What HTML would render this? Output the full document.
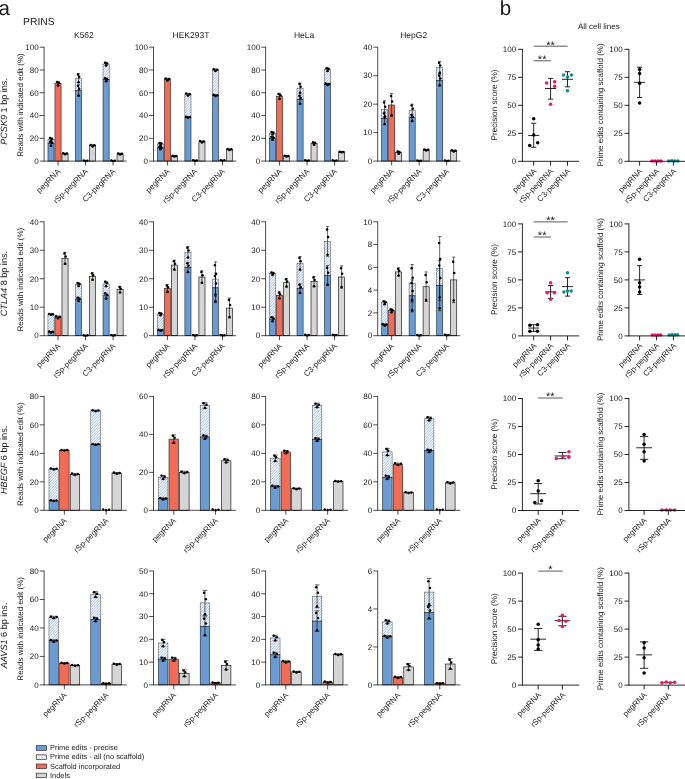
<!DOCTYPE html>
<html><head><meta charset="utf-8"><title>Figure</title>
<style>html,body{margin:0;padding:0;background:#fff}svg{display:block;will-change:transform}</style></head>
<body>
<svg width="685" height="779" viewBox="0 0 685 779" font-family="Liberation Sans, Arial, sans-serif" text-rendering="geometricPrecision">
<defs><pattern id="hatch" width="2.1" height="2.1" patternUnits="userSpaceOnUse"><rect width="2.1" height="2.1" fill="#fff"/><path d="M-0.5,0.5L0.5,-0.5M-0.2,2.3L2.3,-0.2M1.6,2.6L2.6,1.6" stroke="#9bbce6" stroke-width="0.65" fill="none"/></pattern></defs>
<rect width="685" height="779" fill="#fff"/>
<text x="-1.5" y="14.5" font-size="20.5" text-anchor="start" fill="#1a1a1a" >a</text>
<text x="23.1" y="24.9" font-size="10.3" text-anchor="start" fill="#1a1a1a" >PRINS</text>
<text x="499.7" y="14.5" font-size="20.5" text-anchor="start" fill="#1a1a1a" >b</text>
<text x="598.8" y="28.7" font-size="8.0" text-anchor="middle" fill="#1a1a1a" >All cell lines</text>
<text x="83.9" y="37.6" font-size="8.5" text-anchor="middle" fill="#1a1a1a" >K562</text>
<text x="191" y="37.6" font-size="8.5" text-anchor="middle" fill="#1a1a1a" >HEK293T</text>
<text x="304.1" y="37.6" font-size="8.5" text-anchor="middle" fill="#1a1a1a" >HeLa</text>
<text x="413.7" y="37.6" font-size="8.5" text-anchor="middle" fill="#1a1a1a" >HepG2</text>
<rect x="47.97" y="139.46" width="6.1" height="4.21" fill="#fff"/>
<path d="M47.97,140.4L48.82,139.46M47.97,143.1L51.28,139.46M49.9,143.67L53.73,139.46M52.35,143.67L54.07,141.79" stroke="#9abbe7" stroke-width="0.95" fill="none"/>
<rect x="47.97" y="139.46" width="6.1" height="4.21" fill="none" stroke="#444" stroke-width="0.5"/>
<rect x="47.97" y="143.67" width="6.1" height="17.43" fill="#6a9bd2" stroke="#111" stroke-width="0.55"/>
<rect x="54.97" y="83.53" width="6.1" height="77.57" fill="#f26b55" stroke="#111" stroke-width="0.55"/>
<rect x="61.97" y="153.7" width="6.1" height="7.4" fill="#d5d5d5" stroke="#111" stroke-width="0.65"/>
<line x1="51.02" y1="141.17" x2="51.02" y2="137.75" stroke="#000" stroke-width="0.6" />
<line x1="49.49" y1="141.17" x2="52.54" y2="141.17" stroke="#000" stroke-width="0.6" />
<line x1="49.49" y1="137.75" x2="52.54" y2="137.75" stroke="#000" stroke-width="0.6" />
<circle cx="49.99" cy="138.09" r="1.25" fill="#000"/>
<circle cx="51.02" cy="141" r="1.25" fill="#000"/>
<circle cx="52.04" cy="138.95" r="1.25" fill="#000"/>
<line x1="51.02" y1="145.95" x2="51.02" y2="141.4" stroke="#000" stroke-width="0.6" />
<line x1="49.49" y1="145.95" x2="52.54" y2="145.95" stroke="#000" stroke-width="0.6" />
<line x1="49.49" y1="141.4" x2="52.54" y2="141.4" stroke="#000" stroke-width="0.6" />
<circle cx="49.99" cy="141.85" r="1.25" fill="#000"/>
<circle cx="51.02" cy="145.72" r="1.25" fill="#000"/>
<circle cx="52.04" cy="142.99" r="1.25" fill="#000"/>
<line x1="58.02" y1="85.58" x2="58.02" y2="81.48" stroke="#000" stroke-width="0.6" />
<line x1="56.49" y1="85.58" x2="59.54" y2="85.58" stroke="#000" stroke-width="0.6" />
<line x1="56.49" y1="81.48" x2="59.54" y2="81.48" stroke="#000" stroke-width="0.6" />
<circle cx="56.99" cy="81.89" r="1.25" fill="#000"/>
<circle cx="58.02" cy="85.38" r="1.25" fill="#000"/>
<circle cx="59.04" cy="82.92" r="1.25" fill="#000"/>
<line x1="65.02" y1="154.27" x2="65.02" y2="153.13" stroke="#000" stroke-width="0.6" />
<line x1="63.49" y1="154.27" x2="66.54" y2="154.27" stroke="#000" stroke-width="0.6" />
<line x1="63.49" y1="153.13" x2="66.54" y2="153.13" stroke="#000" stroke-width="0.6" />
<circle cx="63.15" cy="153.24" r="1.25" fill="#000"/>
<circle cx="65.02" cy="154.21" r="1.25" fill="#000"/>
<circle cx="66.88" cy="153.53" r="1.25" fill="#000"/>
<rect x="75.5" y="78.18" width="6.1" height="12.3" fill="#fff"/>
<path d="M75.5,78.3L75.61,78.18M75.5,81L78.06,78.18M75.5,83.7L80.52,78.18M75.5,86.4L81.6,79.69M75.5,89.1L81.6,82.39M76.7,90.48L81.6,85.09M79.15,90.48L81.6,87.79" stroke="#9abbe7" stroke-width="0.95" fill="none"/>
<rect x="75.5" y="78.18" width="6.1" height="12.3" fill="none" stroke="#444" stroke-width="0.5"/>
<rect x="75.5" y="90.48" width="6.1" height="70.62" fill="#6a9bd2" stroke="#111" stroke-width="0.55"/>
<rect x="89.5" y="145.61" width="6.1" height="15.49" fill="#d5d5d5" stroke="#111" stroke-width="0.65"/>
<line x1="78.55" y1="82.74" x2="78.55" y2="73.62" stroke="#000" stroke-width="0.6" />
<line x1="77.03" y1="82.74" x2="80.08" y2="82.74" stroke="#000" stroke-width="0.6" />
<line x1="77.03" y1="73.62" x2="80.08" y2="73.62" stroke="#000" stroke-width="0.6" />
<circle cx="77.99" cy="74.54" r="1.25" fill="#000"/>
<circle cx="78.55" cy="82.28" r="1.25" fill="#000"/>
<circle cx="79.11" cy="76.81" r="1.25" fill="#000"/>
<line x1="78.55" y1="96.18" x2="78.55" y2="84.79" stroke="#000" stroke-width="0.6" />
<line x1="77.03" y1="96.18" x2="80.08" y2="96.18" stroke="#000" stroke-width="0.6" />
<line x1="77.03" y1="84.79" x2="80.08" y2="84.79" stroke="#000" stroke-width="0.6" />
<circle cx="77.99" cy="85.93" r="1.25" fill="#000"/>
<circle cx="78.55" cy="95.61" r="1.25" fill="#000"/>
<circle cx="79.11" cy="88.77" r="1.25" fill="#000"/>
<circle cx="83.68" cy="160.48" r="1.25" fill="#000"/>
<circle cx="85.55" cy="161.07" r="1.25" fill="#000"/>
<circle cx="87.42" cy="160.66" r="1.25" fill="#000"/>
<line x1="92.55" y1="146.52" x2="92.55" y2="144.7" stroke="#000" stroke-width="0.6" />
<line x1="91.03" y1="146.52" x2="94.08" y2="146.52" stroke="#000" stroke-width="0.6" />
<line x1="91.03" y1="144.7" x2="94.08" y2="144.7" stroke="#000" stroke-width="0.6" />
<circle cx="90.68" cy="144.88" r="1.25" fill="#000"/>
<circle cx="92.55" cy="146.43" r="1.25" fill="#000"/>
<circle cx="94.42" cy="145.34" r="1.25" fill="#000"/>
<rect x="103.03" y="64.06" width="6.1" height="15.6" fill="#fff"/>
<path d="M103.03,64.8L103.71,64.06M103.03,67.5L106.16,64.06M103.03,70.2L108.62,64.06M103.03,72.9L109.13,66.19M103.03,75.6L109.13,68.89M103.03,78.3L109.13,71.59M104.25,79.66L109.13,74.29M106.7,79.66L109.13,76.99" stroke="#9abbe7" stroke-width="0.95" fill="none"/>
<rect x="103.03" y="64.06" width="6.1" height="15.6" fill="none" stroke="#444" stroke-width="0.5"/>
<rect x="103.03" y="79.66" width="6.1" height="81.44" fill="#6a9bd2" stroke="#111" stroke-width="0.55"/>
<rect x="117.03" y="153.92" width="6.1" height="7.18" fill="#d5d5d5" stroke="#111" stroke-width="0.65"/>
<line x1="106.08" y1="65.77" x2="106.08" y2="62.35" stroke="#000" stroke-width="0.6" />
<line x1="104.56" y1="65.77" x2="107.61" y2="65.77" stroke="#000" stroke-width="0.6" />
<line x1="104.56" y1="62.35" x2="107.61" y2="62.35" stroke="#000" stroke-width="0.6" />
<circle cx="105.06" cy="62.69" r="1.25" fill="#000"/>
<circle cx="106.08" cy="65.59" r="1.25" fill="#000"/>
<circle cx="107.11" cy="63.54" r="1.25" fill="#000"/>
<line x1="106.08" y1="81.37" x2="106.08" y2="77.95" stroke="#000" stroke-width="0.6" />
<line x1="104.56" y1="81.37" x2="107.61" y2="81.37" stroke="#000" stroke-width="0.6" />
<line x1="104.56" y1="77.95" x2="107.61" y2="77.95" stroke="#000" stroke-width="0.6" />
<circle cx="105.06" cy="78.29" r="1.25" fill="#000"/>
<circle cx="106.08" cy="81.2" r="1.25" fill="#000"/>
<circle cx="107.11" cy="79.15" r="1.25" fill="#000"/>
<circle cx="111.22" cy="160.48" r="1.25" fill="#000"/>
<circle cx="113.08" cy="161.07" r="1.25" fill="#000"/>
<circle cx="114.95" cy="160.66" r="1.25" fill="#000"/>
<line x1="120.08" y1="154.61" x2="120.08" y2="153.24" stroke="#000" stroke-width="0.6" />
<line x1="118.56" y1="154.61" x2="121.61" y2="154.61" stroke="#000" stroke-width="0.6" />
<line x1="118.56" y1="153.24" x2="121.61" y2="153.24" stroke="#000" stroke-width="0.6" />
<circle cx="118.22" cy="153.38" r="1.25" fill="#000"/>
<circle cx="120.08" cy="154.54" r="1.25" fill="#000"/>
<circle cx="121.95" cy="153.72" r="1.25" fill="#000"/>
<line x1="44.1" y1="46.85" x2="44.1" y2="161.45" stroke="#000" stroke-width="0.7" />
<line x1="44.1" y1="161.1" x2="126.7" y2="161.1" stroke="#000" stroke-width="0.7" />
<line x1="39.7" y1="161.1" x2="44.1" y2="161.1" stroke="#000" stroke-width="0.7" />
<text x="38.6" y="163.85" font-size="8.0" text-anchor="end" fill="#1a1a1a" >0</text>
<line x1="39.7" y1="138.32" x2="44.1" y2="138.32" stroke="#000" stroke-width="0.7" />
<text x="38.6" y="141.07" font-size="8.0" text-anchor="end" fill="#1a1a1a" >20</text>
<line x1="39.7" y1="115.54" x2="44.1" y2="115.54" stroke="#000" stroke-width="0.7" />
<text x="38.6" y="118.29" font-size="8.0" text-anchor="end" fill="#1a1a1a" >40</text>
<line x1="39.7" y1="92.76" x2="44.1" y2="92.76" stroke="#000" stroke-width="0.7" />
<text x="38.6" y="95.51" font-size="8.0" text-anchor="end" fill="#1a1a1a" >60</text>
<line x1="39.7" y1="69.98" x2="44.1" y2="69.98" stroke="#000" stroke-width="0.7" />
<text x="38.6" y="72.73" font-size="8.0" text-anchor="end" fill="#1a1a1a" >80</text>
<line x1="39.7" y1="47.2" x2="44.1" y2="47.2" stroke="#000" stroke-width="0.7" />
<text x="38.6" y="49.95" font-size="8.0" text-anchor="end" fill="#1a1a1a" >100</text>
<line x1="58.02" y1="161.1" x2="58.02" y2="165.5" stroke="#000" stroke-width="0.7" />
<text transform="translate(60.92,172) rotate(-45)" font-size="8.0" text-anchor="end" fill="#1a1a1a">pegRNA</text>
<line x1="85.55" y1="161.1" x2="85.55" y2="165.5" stroke="#000" stroke-width="0.7" />
<text transform="translate(88.45,172) rotate(-45)" font-size="8.0" text-anchor="end" fill="#1a1a1a">rSp-pegRNA</text>
<line x1="113.08" y1="161.1" x2="113.08" y2="165.5" stroke="#000" stroke-width="0.7" />
<text transform="translate(115.98,172) rotate(-45)" font-size="8.0" text-anchor="end" fill="#1a1a1a">C3-pegRNA</text>
<rect x="157.37" y="144.01" width="6.1" height="3.99" fill="#fff"/>
<path d="M157.37,145.8L158.99,144.01M157.82,148L161.44,144.01M160.27,148L163.47,144.49M162.73,148L163.47,147.19" stroke="#9abbe7" stroke-width="0.95" fill="none"/>
<rect x="157.37" y="144.01" width="6.1" height="3.99" fill="none" stroke="#444" stroke-width="0.5"/>
<rect x="157.37" y="148" width="6.1" height="13.1" fill="#6a9bd2" stroke="#111" stroke-width="0.55"/>
<rect x="164.37" y="79.43" width="6.1" height="81.67" fill="#f26b55" stroke="#111" stroke-width="0.55"/>
<rect x="171.37" y="156.2" width="6.1" height="4.9" fill="#d5d5d5" stroke="#111" stroke-width="0.65"/>
<line x1="160.42" y1="145.38" x2="160.42" y2="142.65" stroke="#000" stroke-width="0.6" />
<line x1="158.89" y1="145.38" x2="161.94" y2="145.38" stroke="#000" stroke-width="0.6" />
<line x1="158.89" y1="142.65" x2="161.94" y2="142.65" stroke="#000" stroke-width="0.6" />
<circle cx="159.39" cy="142.92" r="1.25" fill="#000"/>
<circle cx="160.42" cy="145.25" r="1.25" fill="#000"/>
<circle cx="161.44" cy="143.6" r="1.25" fill="#000"/>
<line x1="160.42" y1="149.37" x2="160.42" y2="146.63" stroke="#000" stroke-width="0.6" />
<line x1="158.89" y1="149.37" x2="161.94" y2="149.37" stroke="#000" stroke-width="0.6" />
<line x1="158.89" y1="146.63" x2="161.94" y2="146.63" stroke="#000" stroke-width="0.6" />
<circle cx="159.39" cy="146.91" r="1.25" fill="#000"/>
<circle cx="160.42" cy="149.23" r="1.25" fill="#000"/>
<circle cx="161.44" cy="147.59" r="1.25" fill="#000"/>
<line x1="167.42" y1="80.57" x2="167.42" y2="78.29" stroke="#000" stroke-width="0.6" />
<line x1="165.89" y1="80.57" x2="168.94" y2="80.57" stroke="#000" stroke-width="0.6" />
<line x1="165.89" y1="78.29" x2="168.94" y2="78.29" stroke="#000" stroke-width="0.6" />
<circle cx="165.55" cy="78.52" r="1.25" fill="#000"/>
<circle cx="167.42" cy="80.46" r="1.25" fill="#000"/>
<circle cx="169.28" cy="79.09" r="1.25" fill="#000"/>
<line x1="174.42" y1="156.66" x2="174.42" y2="155.75" stroke="#000" stroke-width="0.6" />
<line x1="172.89" y1="156.66" x2="175.94" y2="156.66" stroke="#000" stroke-width="0.6" />
<line x1="172.89" y1="155.75" x2="175.94" y2="155.75" stroke="#000" stroke-width="0.6" />
<circle cx="172.55" cy="155.84" r="1.25" fill="#000"/>
<circle cx="174.42" cy="156.61" r="1.25" fill="#000"/>
<circle cx="176.28" cy="156.07" r="1.25" fill="#000"/>
<rect x="184.9" y="94.47" width="6.1" height="22.78" fill="#fff"/>
<path d="M184.9,97.2L187.38,94.47M184.9,99.9L189.84,94.47M184.9,102.6L191,95.89M184.9,105.3L191,98.59M184.9,108L191,101.29M184.9,110.7L191,103.99M184.9,113.4L191,106.69M184.9,116.1L191,109.39M186.31,117.25L191,112.09M188.77,117.25L191,114.79" stroke="#9abbe7" stroke-width="0.95" fill="none"/>
<rect x="184.9" y="94.47" width="6.1" height="22.78" fill="none" stroke="#444" stroke-width="0.5"/>
<rect x="184.9" y="117.25" width="6.1" height="43.85" fill="#6a9bd2" stroke="#111" stroke-width="0.55"/>
<rect x="198.9" y="141.74" width="6.1" height="19.36" fill="#d5d5d5" stroke="#111" stroke-width="0.65"/>
<line x1="187.95" y1="95.61" x2="187.95" y2="93.33" stroke="#000" stroke-width="0.6" />
<line x1="186.43" y1="95.61" x2="189.48" y2="95.61" stroke="#000" stroke-width="0.6" />
<line x1="186.43" y1="93.33" x2="189.48" y2="93.33" stroke="#000" stroke-width="0.6" />
<circle cx="186.08" cy="93.56" r="1.25" fill="#000"/>
<circle cx="187.95" cy="95.49" r="1.25" fill="#000"/>
<circle cx="189.82" cy="94.13" r="1.25" fill="#000"/>
<line x1="187.95" y1="117.93" x2="187.95" y2="116.57" stroke="#000" stroke-width="0.6" />
<line x1="186.43" y1="117.93" x2="189.48" y2="117.93" stroke="#000" stroke-width="0.6" />
<line x1="186.43" y1="116.57" x2="189.48" y2="116.57" stroke="#000" stroke-width="0.6" />
<circle cx="186.08" cy="116.7" r="1.25" fill="#000"/>
<circle cx="187.95" cy="117.86" r="1.25" fill="#000"/>
<circle cx="189.82" cy="117.04" r="1.25" fill="#000"/>
<circle cx="193.08" cy="160.26" r="1.25" fill="#000"/>
<circle cx="194.95" cy="160.84" r="1.25" fill="#000"/>
<circle cx="196.82" cy="160.43" r="1.25" fill="#000"/>
<line x1="201.95" y1="142.53" x2="201.95" y2="140.94" stroke="#000" stroke-width="0.6" />
<line x1="200.43" y1="142.53" x2="203.48" y2="142.53" stroke="#000" stroke-width="0.6" />
<line x1="200.43" y1="140.94" x2="203.48" y2="140.94" stroke="#000" stroke-width="0.6" />
<circle cx="200.08" cy="141.1" r="1.25" fill="#000"/>
<circle cx="201.95" cy="142.45" r="1.25" fill="#000"/>
<circle cx="203.82" cy="141.5" r="1.25" fill="#000"/>
<rect x="212.43" y="69.98" width="6.1" height="25.4" fill="#fff"/>
<path d="M212.43,70.2L212.63,69.98M212.43,72.9L215.09,69.98M212.43,75.6L217.54,69.98M212.43,78.3L218.53,71.59M212.43,81L218.53,74.29M212.43,83.7L218.53,76.99M212.43,86.4L218.53,79.69M212.43,89.1L218.53,82.39M212.43,91.8L218.53,85.09M212.43,94.5L218.53,87.79M214.09,95.38L218.53,90.49M216.54,95.38L218.53,93.19" stroke="#9abbe7" stroke-width="0.95" fill="none"/>
<rect x="212.43" y="69.98" width="6.1" height="25.4" fill="none" stroke="#444" stroke-width="0.5"/>
<rect x="212.43" y="95.38" width="6.1" height="65.72" fill="#6a9bd2" stroke="#111" stroke-width="0.55"/>
<rect x="226.43" y="149.48" width="6.1" height="11.62" fill="#d5d5d5" stroke="#111" stroke-width="0.65"/>
<line x1="215.48" y1="71.01" x2="215.48" y2="68.95" stroke="#000" stroke-width="0.6" />
<line x1="213.96" y1="71.01" x2="217.01" y2="71.01" stroke="#000" stroke-width="0.6" />
<line x1="213.96" y1="68.95" x2="217.01" y2="68.95" stroke="#000" stroke-width="0.6" />
<circle cx="213.62" cy="69.16" r="1.25" fill="#000"/>
<circle cx="215.48" cy="70.9" r="1.25" fill="#000"/>
<circle cx="217.35" cy="69.67" r="1.25" fill="#000"/>
<line x1="215.48" y1="96.06" x2="215.48" y2="94.7" stroke="#000" stroke-width="0.6" />
<line x1="213.96" y1="96.06" x2="217.01" y2="96.06" stroke="#000" stroke-width="0.6" />
<line x1="213.96" y1="94.7" x2="217.01" y2="94.7" stroke="#000" stroke-width="0.6" />
<circle cx="213.62" cy="94.83" r="1.25" fill="#000"/>
<circle cx="215.48" cy="95.99" r="1.25" fill="#000"/>
<circle cx="217.35" cy="95.17" r="1.25" fill="#000"/>
<circle cx="220.62" cy="160.14" r="1.25" fill="#000"/>
<circle cx="222.48" cy="160.72" r="1.25" fill="#000"/>
<circle cx="224.35" cy="160.31" r="1.25" fill="#000"/>
<line x1="229.48" y1="150.05" x2="229.48" y2="148.91" stroke="#000" stroke-width="0.6" />
<line x1="227.96" y1="150.05" x2="231.01" y2="150.05" stroke="#000" stroke-width="0.6" />
<line x1="227.96" y1="148.91" x2="231.01" y2="148.91" stroke="#000" stroke-width="0.6" />
<circle cx="227.62" cy="149.03" r="1.25" fill="#000"/>
<circle cx="229.48" cy="149.99" r="1.25" fill="#000"/>
<circle cx="231.35" cy="149.31" r="1.25" fill="#000"/>
<line x1="153.5" y1="46.85" x2="153.5" y2="161.45" stroke="#000" stroke-width="0.7" />
<line x1="153.5" y1="161.1" x2="236.1" y2="161.1" stroke="#000" stroke-width="0.7" />
<line x1="149.1" y1="161.1" x2="153.5" y2="161.1" stroke="#000" stroke-width="0.7" />
<text x="148" y="163.85" font-size="8.0" text-anchor="end" fill="#1a1a1a" >0</text>
<line x1="149.1" y1="138.32" x2="153.5" y2="138.32" stroke="#000" stroke-width="0.7" />
<text x="148" y="141.07" font-size="8.0" text-anchor="end" fill="#1a1a1a" >20</text>
<line x1="149.1" y1="115.54" x2="153.5" y2="115.54" stroke="#000" stroke-width="0.7" />
<text x="148" y="118.29" font-size="8.0" text-anchor="end" fill="#1a1a1a" >40</text>
<line x1="149.1" y1="92.76" x2="153.5" y2="92.76" stroke="#000" stroke-width="0.7" />
<text x="148" y="95.51" font-size="8.0" text-anchor="end" fill="#1a1a1a" >60</text>
<line x1="149.1" y1="69.98" x2="153.5" y2="69.98" stroke="#000" stroke-width="0.7" />
<text x="148" y="72.73" font-size="8.0" text-anchor="end" fill="#1a1a1a" >80</text>
<line x1="149.1" y1="47.2" x2="153.5" y2="47.2" stroke="#000" stroke-width="0.7" />
<text x="148" y="49.95" font-size="8.0" text-anchor="end" fill="#1a1a1a" >100</text>
<line x1="167.42" y1="161.1" x2="167.42" y2="165.5" stroke="#000" stroke-width="0.7" />
<text transform="translate(170.32,172) rotate(-45)" font-size="8.0" text-anchor="end" fill="#1a1a1a">pegRNA</text>
<line x1="194.95" y1="161.1" x2="194.95" y2="165.5" stroke="#000" stroke-width="0.7" />
<text transform="translate(197.85,172) rotate(-45)" font-size="8.0" text-anchor="end" fill="#1a1a1a">rSp-pegRNA</text>
<line x1="222.48" y1="161.1" x2="222.48" y2="165.5" stroke="#000" stroke-width="0.7" />
<text transform="translate(225.38,172) rotate(-45)" font-size="8.0" text-anchor="end" fill="#1a1a1a">C3-pegRNA</text>
<rect x="269.47" y="133.19" width="6.1" height="5.13" fill="#fff"/>
<path d="M269.47,135L271.11,133.19M269.47,137.7L273.56,133.19M271.36,138.32L275.57,133.69M273.81,138.32L275.57,136.39" stroke="#9abbe7" stroke-width="0.95" fill="none"/>
<rect x="269.47" y="133.19" width="6.1" height="5.13" fill="none" stroke="#444" stroke-width="0.5"/>
<rect x="269.47" y="138.32" width="6.1" height="22.78" fill="#6a9bd2" stroke="#111" stroke-width="0.55"/>
<rect x="276.47" y="96.18" width="6.1" height="64.92" fill="#f26b55" stroke="#111" stroke-width="0.55"/>
<rect x="283.47" y="156.2" width="6.1" height="4.9" fill="#d5d5d5" stroke="#111" stroke-width="0.65"/>
<line x1="272.52" y1="134.56" x2="272.52" y2="131.83" stroke="#000" stroke-width="0.6" />
<line x1="270.99" y1="134.56" x2="274.04" y2="134.56" stroke="#000" stroke-width="0.6" />
<line x1="270.99" y1="131.83" x2="274.04" y2="131.83" stroke="#000" stroke-width="0.6" />
<circle cx="271.49" cy="132.1" r="1.25" fill="#000"/>
<circle cx="272.52" cy="134.42" r="1.25" fill="#000"/>
<circle cx="273.54" cy="132.78" r="1.25" fill="#000"/>
<line x1="272.52" y1="140.03" x2="272.52" y2="136.61" stroke="#000" stroke-width="0.6" />
<line x1="270.99" y1="140.03" x2="274.04" y2="140.03" stroke="#000" stroke-width="0.6" />
<line x1="270.99" y1="136.61" x2="274.04" y2="136.61" stroke="#000" stroke-width="0.6" />
<circle cx="271.49" cy="136.95" r="1.25" fill="#000"/>
<circle cx="272.52" cy="139.86" r="1.25" fill="#000"/>
<circle cx="273.54" cy="137.81" r="1.25" fill="#000"/>
<line x1="279.52" y1="99.02" x2="279.52" y2="93.33" stroke="#000" stroke-width="0.6" />
<line x1="277.99" y1="99.02" x2="281.04" y2="99.02" stroke="#000" stroke-width="0.6" />
<line x1="277.99" y1="93.33" x2="281.04" y2="93.33" stroke="#000" stroke-width="0.6" />
<circle cx="278.49" cy="93.9" r="1.25" fill="#000"/>
<circle cx="279.52" cy="98.74" r="1.25" fill="#000"/>
<circle cx="280.54" cy="95.32" r="1.25" fill="#000"/>
<line x1="286.52" y1="156.66" x2="286.52" y2="155.75" stroke="#000" stroke-width="0.6" />
<line x1="284.99" y1="156.66" x2="288.04" y2="156.66" stroke="#000" stroke-width="0.6" />
<line x1="284.99" y1="155.75" x2="288.04" y2="155.75" stroke="#000" stroke-width="0.6" />
<circle cx="284.65" cy="155.84" r="1.25" fill="#000"/>
<circle cx="286.52" cy="156.61" r="1.25" fill="#000"/>
<circle cx="288.38" cy="156.07" r="1.25" fill="#000"/>
<rect x="297" y="88.2" width="6.1" height="11.39" fill="#fff"/>
<path d="M297,89.1L297.81,88.2M297,91.8L300.27,88.2M297,94.5L302.72,88.2M297,97.2L303.1,90.49M297.28,99.59L303.1,93.19M299.73,99.59L303.1,95.89M302.19,99.59L303.1,98.59" stroke="#9abbe7" stroke-width="0.95" fill="none"/>
<rect x="297" y="88.2" width="6.1" height="11.39" fill="none" stroke="#444" stroke-width="0.5"/>
<rect x="297" y="99.59" width="6.1" height="61.51" fill="#6a9bd2" stroke="#111" stroke-width="0.55"/>
<rect x="311" y="143.45" width="6.1" height="17.65" fill="#d5d5d5" stroke="#111" stroke-width="0.65"/>
<line x1="300.05" y1="93.33" x2="300.05" y2="83.08" stroke="#000" stroke-width="0.6" />
<line x1="298.53" y1="93.33" x2="301.57" y2="93.33" stroke="#000" stroke-width="0.6" />
<line x1="298.53" y1="83.08" x2="301.57" y2="83.08" stroke="#000" stroke-width="0.6" />
<circle cx="299.49" cy="84.1" r="1.25" fill="#000"/>
<circle cx="300.05" cy="92.82" r="1.25" fill="#000"/>
<circle cx="300.61" cy="86.67" r="1.25" fill="#000"/>
<line x1="300.05" y1="104.15" x2="300.05" y2="95.04" stroke="#000" stroke-width="0.6" />
<line x1="298.53" y1="104.15" x2="301.57" y2="104.15" stroke="#000" stroke-width="0.6" />
<line x1="298.53" y1="95.04" x2="301.57" y2="95.04" stroke="#000" stroke-width="0.6" />
<circle cx="299.49" cy="95.95" r="1.25" fill="#000"/>
<circle cx="300.05" cy="103.69" r="1.25" fill="#000"/>
<circle cx="300.61" cy="98.23" r="1.25" fill="#000"/>
<circle cx="305.18" cy="160.26" r="1.25" fill="#000"/>
<circle cx="307.05" cy="160.84" r="1.25" fill="#000"/>
<circle cx="308.92" cy="160.43" r="1.25" fill="#000"/>
<line x1="314.05" y1="144.81" x2="314.05" y2="142.08" stroke="#000" stroke-width="0.6" />
<line x1="312.53" y1="144.81" x2="315.57" y2="144.81" stroke="#000" stroke-width="0.6" />
<line x1="312.53" y1="142.08" x2="315.57" y2="142.08" stroke="#000" stroke-width="0.6" />
<circle cx="313.02" cy="142.35" r="1.25" fill="#000"/>
<circle cx="314.05" cy="144.68" r="1.25" fill="#000"/>
<circle cx="315.08" cy="143.04" r="1.25" fill="#000"/>
<rect x="324.53" y="69.52" width="6.1" height="14.69" fill="#fff"/>
<path d="M324.53,70.2L325.15,69.52M324.53,72.9L327.6,69.52M324.53,75.6L330.06,69.52M324.53,78.3L330.63,71.59M324.53,81L330.63,74.29M324.53,83.7L330.63,76.99M326.52,84.22L330.63,79.69M328.97,84.22L330.63,82.39" stroke="#9abbe7" stroke-width="0.95" fill="none"/>
<rect x="324.53" y="69.52" width="6.1" height="14.69" fill="none" stroke="#444" stroke-width="0.5"/>
<rect x="324.53" y="84.22" width="6.1" height="76.88" fill="#6a9bd2" stroke="#111" stroke-width="0.55"/>
<rect x="338.53" y="151.99" width="6.1" height="9.11" fill="#d5d5d5" stroke="#111" stroke-width="0.65"/>
<line x1="327.58" y1="71.23" x2="327.58" y2="67.82" stroke="#000" stroke-width="0.6" />
<line x1="326.06" y1="71.23" x2="329.11" y2="71.23" stroke="#000" stroke-width="0.6" />
<line x1="326.06" y1="67.82" x2="329.11" y2="67.82" stroke="#000" stroke-width="0.6" />
<circle cx="326.56" cy="68.16" r="1.25" fill="#000"/>
<circle cx="327.58" cy="71.06" r="1.25" fill="#000"/>
<circle cx="328.61" cy="69.01" r="1.25" fill="#000"/>
<line x1="327.58" y1="85.13" x2="327.58" y2="83.31" stroke="#000" stroke-width="0.6" />
<line x1="326.06" y1="85.13" x2="329.11" y2="85.13" stroke="#000" stroke-width="0.6" />
<line x1="326.06" y1="83.31" x2="329.11" y2="83.31" stroke="#000" stroke-width="0.6" />
<circle cx="325.72" cy="83.49" r="1.25" fill="#000"/>
<circle cx="327.58" cy="85.04" r="1.25" fill="#000"/>
<circle cx="329.45" cy="83.94" r="1.25" fill="#000"/>
<circle cx="332.72" cy="160.37" r="1.25" fill="#000"/>
<circle cx="334.58" cy="160.95" r="1.25" fill="#000"/>
<circle cx="336.45" cy="160.54" r="1.25" fill="#000"/>
<line x1="341.58" y1="152.33" x2="341.58" y2="151.65" stroke="#000" stroke-width="0.6" />
<line x1="340.06" y1="152.33" x2="343.11" y2="152.33" stroke="#000" stroke-width="0.6" />
<line x1="340.06" y1="151.65" x2="343.11" y2="151.65" stroke="#000" stroke-width="0.6" />
<circle cx="339.72" cy="151.71" r="1.25" fill="#000"/>
<circle cx="341.58" cy="152.3" r="1.25" fill="#000"/>
<circle cx="343.45" cy="151.89" r="1.25" fill="#000"/>
<line x1="265.6" y1="46.85" x2="265.6" y2="161.45" stroke="#000" stroke-width="0.7" />
<line x1="265.6" y1="161.1" x2="348.2" y2="161.1" stroke="#000" stroke-width="0.7" />
<line x1="261.2" y1="161.1" x2="265.6" y2="161.1" stroke="#000" stroke-width="0.7" />
<text x="260.1" y="163.85" font-size="8.0" text-anchor="end" fill="#1a1a1a" >0</text>
<line x1="261.2" y1="138.32" x2="265.6" y2="138.32" stroke="#000" stroke-width="0.7" />
<text x="260.1" y="141.07" font-size="8.0" text-anchor="end" fill="#1a1a1a" >20</text>
<line x1="261.2" y1="115.54" x2="265.6" y2="115.54" stroke="#000" stroke-width="0.7" />
<text x="260.1" y="118.29" font-size="8.0" text-anchor="end" fill="#1a1a1a" >40</text>
<line x1="261.2" y1="92.76" x2="265.6" y2="92.76" stroke="#000" stroke-width="0.7" />
<text x="260.1" y="95.51" font-size="8.0" text-anchor="end" fill="#1a1a1a" >60</text>
<line x1="261.2" y1="69.98" x2="265.6" y2="69.98" stroke="#000" stroke-width="0.7" />
<text x="260.1" y="72.73" font-size="8.0" text-anchor="end" fill="#1a1a1a" >80</text>
<line x1="261.2" y1="47.2" x2="265.6" y2="47.2" stroke="#000" stroke-width="0.7" />
<text x="260.1" y="49.95" font-size="8.0" text-anchor="end" fill="#1a1a1a" >100</text>
<line x1="279.52" y1="161.1" x2="279.52" y2="165.5" stroke="#000" stroke-width="0.7" />
<text transform="translate(282.42,172) rotate(-45)" font-size="8.0" text-anchor="end" fill="#1a1a1a">pegRNA</text>
<line x1="307.05" y1="161.1" x2="307.05" y2="165.5" stroke="#000" stroke-width="0.7" />
<text transform="translate(309.95,172) rotate(-45)" font-size="8.0" text-anchor="end" fill="#1a1a1a">rSp-pegRNA</text>
<line x1="334.58" y1="161.1" x2="334.58" y2="165.5" stroke="#000" stroke-width="0.7" />
<text transform="translate(337.48,172) rotate(-45)" font-size="8.0" text-anchor="end" fill="#1a1a1a">C3-pegRNA</text>
<rect x="381.57" y="109.28" width="6.1" height="9.11" fill="#fff"/>
<path d="M381.57,110.7L382.86,109.28M381.57,113.4L385.32,109.28M381.57,116.1L387.67,109.39M381.94,118.39L387.67,112.09M384.4,118.39L387.67,114.79M386.85,118.39L387.67,117.49" stroke="#9abbe7" stroke-width="0.95" fill="none"/>
<rect x="381.57" y="109.28" width="6.1" height="9.11" fill="none" stroke="#444" stroke-width="0.5"/>
<rect x="381.57" y="118.39" width="6.1" height="42.71" fill="#6a9bd2" stroke="#111" stroke-width="0.55"/>
<rect x="388.57" y="105" width="6.1" height="56.1" fill="#f26b55" stroke="#111" stroke-width="0.55"/>
<rect x="395.57" y="152.56" width="6.1" height="8.54" fill="#d5d5d5" stroke="#111" stroke-width="0.65"/>
<line x1="384.62" y1="117.82" x2="384.62" y2="100.73" stroke="#000" stroke-width="0.6" />
<line x1="383.09" y1="117.82" x2="386.14" y2="117.82" stroke="#000" stroke-width="0.6" />
<line x1="383.09" y1="100.73" x2="386.14" y2="100.73" stroke="#000" stroke-width="0.6" />
<circle cx="384.06" cy="102.44" r="1.25" fill="#000"/>
<circle cx="384.62" cy="116.96" r="1.25" fill="#000"/>
<circle cx="385.18" cy="106.71" r="1.25" fill="#000"/>
<line x1="384.62" y1="124.65" x2="384.62" y2="112.12" stroke="#000" stroke-width="0.6" />
<line x1="383.09" y1="124.65" x2="386.14" y2="124.65" stroke="#000" stroke-width="0.6" />
<line x1="383.09" y1="112.12" x2="386.14" y2="112.12" stroke="#000" stroke-width="0.6" />
<circle cx="384.06" cy="113.38" r="1.25" fill="#000"/>
<circle cx="384.62" cy="124.03" r="1.25" fill="#000"/>
<circle cx="385.18" cy="116.51" r="1.25" fill="#000"/>
<line x1="391.62" y1="116.39" x2="391.62" y2="93.61" stroke="#000" stroke-width="0.6" />
<line x1="390.09" y1="116.39" x2="393.14" y2="116.39" stroke="#000" stroke-width="0.6" />
<line x1="390.09" y1="93.61" x2="393.14" y2="93.61" stroke="#000" stroke-width="0.6" />
<circle cx="391.06" cy="95.89" r="1.25" fill="#000"/>
<circle cx="391.62" cy="115.26" r="1.25" fill="#000"/>
<circle cx="392.18" cy="101.59" r="1.25" fill="#000"/>
<line x1="398.62" y1="153.98" x2="398.62" y2="151.13" stroke="#000" stroke-width="0.6" />
<line x1="397.09" y1="153.98" x2="400.14" y2="153.98" stroke="#000" stroke-width="0.6" />
<line x1="397.09" y1="151.13" x2="400.14" y2="151.13" stroke="#000" stroke-width="0.6" />
<circle cx="397.59" cy="151.42" r="1.25" fill="#000"/>
<circle cx="398.62" cy="153.84" r="1.25" fill="#000"/>
<circle cx="399.64" cy="152.13" r="1.25" fill="#000"/>
<rect x="409.1" y="110.7" width="6.1" height="7.12" fill="#fff"/>
<path d="M409.1,113.4L411.56,110.7M409.1,116.1L414.01,110.7M409.99,117.82L415.2,112.09M412.45,117.82L415.2,114.79M414.9,117.82L415.2,117.49" stroke="#9abbe7" stroke-width="0.95" fill="none"/>
<rect x="409.1" y="110.7" width="6.1" height="7.12" fill="none" stroke="#444" stroke-width="0.5"/>
<rect x="409.1" y="117.82" width="6.1" height="43.28" fill="#6a9bd2" stroke="#111" stroke-width="0.55"/>
<rect x="423.1" y="149.99" width="6.1" height="11.11" fill="#d5d5d5" stroke="#111" stroke-width="0.65"/>
<line x1="412.15" y1="117.25" x2="412.15" y2="104.15" stroke="#000" stroke-width="0.6" />
<line x1="410.62" y1="117.25" x2="413.67" y2="117.25" stroke="#000" stroke-width="0.6" />
<line x1="410.62" y1="104.15" x2="413.67" y2="104.15" stroke="#000" stroke-width="0.6" />
<circle cx="411.59" cy="105.46" r="1.25" fill="#000"/>
<circle cx="412.15" cy="116.59" r="1.25" fill="#000"/>
<circle cx="412.71" cy="108.73" r="1.25" fill="#000"/>
<line x1="412.15" y1="121.23" x2="412.15" y2="114.4" stroke="#000" stroke-width="0.6" />
<line x1="410.62" y1="121.23" x2="413.67" y2="121.23" stroke="#000" stroke-width="0.6" />
<line x1="410.62" y1="114.4" x2="413.67" y2="114.4" stroke="#000" stroke-width="0.6" />
<circle cx="411.59" cy="115.08" r="1.25" fill="#000"/>
<circle cx="412.15" cy="120.89" r="1.25" fill="#000"/>
<circle cx="412.71" cy="116.79" r="1.25" fill="#000"/>
<circle cx="417.28" cy="160.54" r="1.25" fill="#000"/>
<circle cx="419.15" cy="161.12" r="1.25" fill="#000"/>
<circle cx="421.02" cy="160.71" r="1.25" fill="#000"/>
<line x1="426.15" y1="150.56" x2="426.15" y2="149.43" stroke="#000" stroke-width="0.6" />
<line x1="424.62" y1="150.56" x2="427.67" y2="150.56" stroke="#000" stroke-width="0.6" />
<line x1="424.62" y1="149.43" x2="427.67" y2="149.43" stroke="#000" stroke-width="0.6" />
<circle cx="424.28" cy="149.54" r="1.25" fill="#000"/>
<circle cx="426.15" cy="150.51" r="1.25" fill="#000"/>
<circle cx="428.02" cy="149.82" r="1.25" fill="#000"/>
<rect x="436.63" y="67.42" width="6.1" height="12.81" fill="#fff"/>
<path d="M436.63,67.5L436.71,67.42M436.63,70.2L439.16,67.42M436.63,72.9L441.62,67.42M436.63,75.6L442.73,68.89M436.63,78.3L442.73,71.59M437.33,80.23L442.73,74.29M439.79,80.23L442.73,76.99M442.24,80.23L442.73,79.69" stroke="#9abbe7" stroke-width="0.95" fill="none"/>
<rect x="436.63" y="67.42" width="6.1" height="12.81" fill="none" stroke="#444" stroke-width="0.5"/>
<rect x="436.63" y="80.23" width="6.1" height="80.87" fill="#6a9bd2" stroke="#111" stroke-width="0.55"/>
<rect x="450.63" y="150.85" width="6.1" height="10.25" fill="#d5d5d5" stroke="#111" stroke-width="0.65"/>
<line x1="439.68" y1="73.4" x2="439.68" y2="61.44" stroke="#000" stroke-width="0.6" />
<line x1="438.16" y1="73.4" x2="441.21" y2="73.4" stroke="#000" stroke-width="0.6" />
<line x1="438.16" y1="61.44" x2="441.21" y2="61.44" stroke="#000" stroke-width="0.6" />
<circle cx="439.12" cy="62.63" r="1.25" fill="#000"/>
<circle cx="439.68" cy="72.8" r="1.25" fill="#000"/>
<circle cx="440.24" cy="65.62" r="1.25" fill="#000"/>
<line x1="439.68" y1="85.93" x2="439.68" y2="74.54" stroke="#000" stroke-width="0.6" />
<line x1="438.16" y1="85.93" x2="441.21" y2="85.93" stroke="#000" stroke-width="0.6" />
<line x1="438.16" y1="74.54" x2="441.21" y2="74.54" stroke="#000" stroke-width="0.6" />
<circle cx="439.12" cy="75.68" r="1.25" fill="#000"/>
<circle cx="439.68" cy="85.36" r="1.25" fill="#000"/>
<circle cx="440.24" cy="78.52" r="1.25" fill="#000"/>
<circle cx="444.82" cy="160.54" r="1.25" fill="#000"/>
<circle cx="446.68" cy="161.12" r="1.25" fill="#000"/>
<circle cx="448.55" cy="160.71" r="1.25" fill="#000"/>
<line x1="453.68" y1="151.56" x2="453.68" y2="150.14" stroke="#000" stroke-width="0.6" />
<line x1="452.16" y1="151.56" x2="455.21" y2="151.56" stroke="#000" stroke-width="0.6" />
<line x1="452.16" y1="150.14" x2="455.21" y2="150.14" stroke="#000" stroke-width="0.6" />
<circle cx="451.82" cy="150.28" r="1.25" fill="#000"/>
<circle cx="453.68" cy="151.49" r="1.25" fill="#000"/>
<circle cx="455.55" cy="150.64" r="1.25" fill="#000"/>
<line x1="377.7" y1="46.85" x2="377.7" y2="161.45" stroke="#000" stroke-width="0.7" />
<line x1="377.7" y1="161.1" x2="460.3" y2="161.1" stroke="#000" stroke-width="0.7" />
<line x1="373.3" y1="161.1" x2="377.7" y2="161.1" stroke="#000" stroke-width="0.7" />
<text x="372.2" y="163.85" font-size="8.0" text-anchor="end" fill="#1a1a1a" >0</text>
<line x1="373.3" y1="132.62" x2="377.7" y2="132.62" stroke="#000" stroke-width="0.7" />
<text x="372.2" y="135.38" font-size="8.0" text-anchor="end" fill="#1a1a1a" >10</text>
<line x1="373.3" y1="104.15" x2="377.7" y2="104.15" stroke="#000" stroke-width="0.7" />
<text x="372.2" y="106.9" font-size="8.0" text-anchor="end" fill="#1a1a1a" >20</text>
<line x1="373.3" y1="75.68" x2="377.7" y2="75.68" stroke="#000" stroke-width="0.7" />
<text x="372.2" y="78.43" font-size="8.0" text-anchor="end" fill="#1a1a1a" >30</text>
<line x1="373.3" y1="47.2" x2="377.7" y2="47.2" stroke="#000" stroke-width="0.7" />
<text x="372.2" y="49.95" font-size="8.0" text-anchor="end" fill="#1a1a1a" >40</text>
<line x1="391.62" y1="161.1" x2="391.62" y2="165.5" stroke="#000" stroke-width="0.7" />
<text transform="translate(394.52,172) rotate(-45)" font-size="8.0" text-anchor="end" fill="#1a1a1a">pegRNA</text>
<line x1="419.15" y1="161.1" x2="419.15" y2="165.5" stroke="#000" stroke-width="0.7" />
<text transform="translate(422.05,172) rotate(-45)" font-size="8.0" text-anchor="end" fill="#1a1a1a">rSp-pegRNA</text>
<line x1="446.68" y1="161.1" x2="446.68" y2="165.5" stroke="#000" stroke-width="0.7" />
<text transform="translate(449.58,172) rotate(-45)" font-size="8.0" text-anchor="end" fill="#1a1a1a">C3-pegRNA</text>
<rect x="47.97" y="314.34" width="6.1" height="17.65" fill="#fff"/>
<path d="M47.97,315.9L49.38,314.34M47.97,318.6L51.84,314.34M47.97,321.3L54.07,314.59M47.97,324L54.07,317.29M47.97,326.7L54.07,319.99M47.97,329.4L54.07,322.69M48.06,332L54.07,325.39M50.51,332L54.07,328.09M52.97,332L54.07,330.79" stroke="#9abbe7" stroke-width="0.95" fill="none"/>
<rect x="47.97" y="314.34" width="6.1" height="17.65" fill="none" stroke="#444" stroke-width="0.5"/>
<rect x="47.97" y="332" width="6.1" height="3.7" fill="#6a9bd2" stroke="#111" stroke-width="0.55"/>
<rect x="54.97" y="317.19" width="6.1" height="18.51" fill="#f26b55" stroke="#111" stroke-width="0.55"/>
<rect x="61.97" y="258.25" width="6.1" height="77.45" fill="#d5d5d5" stroke="#111" stroke-width="0.65"/>
<line x1="51.02" y1="314.91" x2="51.02" y2="313.77" stroke="#000" stroke-width="0.6" />
<line x1="49.49" y1="314.91" x2="52.54" y2="314.91" stroke="#000" stroke-width="0.6" />
<line x1="49.49" y1="313.77" x2="52.54" y2="313.77" stroke="#000" stroke-width="0.6" />
<circle cx="49.15" cy="313.89" r="1.25" fill="#000"/>
<circle cx="51.02" cy="314.86" r="1.25" fill="#000"/>
<circle cx="52.88" cy="314.17" r="1.25" fill="#000"/>
<line x1="51.02" y1="332.57" x2="51.02" y2="331.43" stroke="#000" stroke-width="0.6" />
<line x1="49.49" y1="332.57" x2="52.54" y2="332.57" stroke="#000" stroke-width="0.6" />
<line x1="49.49" y1="331.43" x2="52.54" y2="331.43" stroke="#000" stroke-width="0.6" />
<circle cx="49.15" cy="331.54" r="1.25" fill="#000"/>
<circle cx="51.02" cy="332.51" r="1.25" fill="#000"/>
<circle cx="52.88" cy="331.83" r="1.25" fill="#000"/>
<line x1="58.02" y1="318.33" x2="58.02" y2="316.05" stroke="#000" stroke-width="0.6" />
<line x1="56.49" y1="318.33" x2="59.54" y2="318.33" stroke="#000" stroke-width="0.6" />
<line x1="56.49" y1="316.05" x2="59.54" y2="316.05" stroke="#000" stroke-width="0.6" />
<circle cx="56.15" cy="316.28" r="1.25" fill="#000"/>
<circle cx="58.02" cy="318.22" r="1.25" fill="#000"/>
<circle cx="59.88" cy="316.85" r="1.25" fill="#000"/>
<line x1="65.02" y1="264.23" x2="65.02" y2="252.27" stroke="#000" stroke-width="0.6" />
<line x1="63.49" y1="264.23" x2="66.54" y2="264.23" stroke="#000" stroke-width="0.6" />
<line x1="63.49" y1="252.27" x2="66.54" y2="252.27" stroke="#000" stroke-width="0.6" />
<circle cx="64.46" cy="253.46" r="1.25" fill="#000"/>
<circle cx="65.02" cy="263.63" r="1.25" fill="#000"/>
<circle cx="65.58" cy="256.45" r="1.25" fill="#000"/>
<rect x="75.5" y="284.44" width="6.1" height="14.81" fill="#fff"/>
<path d="M75.5,286.2L77.1,284.44M75.5,288.9L79.55,284.44M75.5,291.6L81.6,284.89M75.5,294.3L81.6,287.59M75.5,297L81.6,290.29M75.91,299.25L81.6,292.99M78.36,299.25L81.6,295.69M80.82,299.25L81.6,298.39" stroke="#9abbe7" stroke-width="0.95" fill="none"/>
<rect x="75.5" y="284.44" width="6.1" height="14.81" fill="none" stroke="#444" stroke-width="0.5"/>
<rect x="75.5" y="299.25" width="6.1" height="36.45" fill="#6a9bd2" stroke="#111" stroke-width="0.55"/>
<rect x="89.5" y="276.47" width="6.1" height="59.23" fill="#d5d5d5" stroke="#111" stroke-width="0.65"/>
<line x1="78.55" y1="286.15" x2="78.55" y2="282.74" stroke="#000" stroke-width="0.6" />
<line x1="77.03" y1="286.15" x2="80.08" y2="286.15" stroke="#000" stroke-width="0.6" />
<line x1="77.03" y1="282.74" x2="80.08" y2="282.74" stroke="#000" stroke-width="0.6" />
<circle cx="77.52" cy="283.08" r="1.25" fill="#000"/>
<circle cx="78.55" cy="285.98" r="1.25" fill="#000"/>
<circle cx="79.58" cy="283.93" r="1.25" fill="#000"/>
<line x1="78.55" y1="301.25" x2="78.55" y2="297.26" stroke="#000" stroke-width="0.6" />
<line x1="77.03" y1="301.25" x2="80.08" y2="301.25" stroke="#000" stroke-width="0.6" />
<line x1="77.03" y1="297.26" x2="80.08" y2="297.26" stroke="#000" stroke-width="0.6" />
<circle cx="77.52" cy="297.66" r="1.25" fill="#000"/>
<circle cx="78.55" cy="301.05" r="1.25" fill="#000"/>
<circle cx="79.58" cy="298.65" r="1.25" fill="#000"/>
<circle cx="83.68" cy="335.14" r="1.25" fill="#000"/>
<circle cx="85.55" cy="335.72" r="1.25" fill="#000"/>
<circle cx="87.42" cy="335.31" r="1.25" fill="#000"/>
<line x1="92.55" y1="280.17" x2="92.55" y2="272.77" stroke="#000" stroke-width="0.6" />
<line x1="91.03" y1="280.17" x2="94.08" y2="280.17" stroke="#000" stroke-width="0.6" />
<line x1="91.03" y1="272.77" x2="94.08" y2="272.77" stroke="#000" stroke-width="0.6" />
<circle cx="91.99" cy="273.51" r="1.25" fill="#000"/>
<circle cx="92.55" cy="279.8" r="1.25" fill="#000"/>
<circle cx="93.11" cy="275.36" r="1.25" fill="#000"/>
<rect x="103.03" y="283.88" width="6.1" height="11.96" fill="#fff"/>
<path d="M103.03,286.2L105.15,283.88M103.03,288.9L107.6,283.88M103.03,291.6L109.13,284.89M103.03,294.3L109.13,287.59M104.09,295.83L109.13,290.29M106.55,295.83L109.13,292.99M109,295.83L109.13,295.69" stroke="#9abbe7" stroke-width="0.95" fill="none"/>
<rect x="103.03" y="283.88" width="6.1" height="11.96" fill="none" stroke="#444" stroke-width="0.5"/>
<rect x="103.03" y="295.83" width="6.1" height="39.87" fill="#6a9bd2" stroke="#111" stroke-width="0.55"/>
<rect x="117.03" y="289.57" width="6.1" height="46.13" fill="#d5d5d5" stroke="#111" stroke-width="0.65"/>
<line x1="106.08" y1="286.44" x2="106.08" y2="281.31" stroke="#000" stroke-width="0.6" />
<line x1="104.56" y1="286.44" x2="107.61" y2="286.44" stroke="#000" stroke-width="0.6" />
<line x1="104.56" y1="281.31" x2="107.61" y2="281.31" stroke="#000" stroke-width="0.6" />
<circle cx="105.06" cy="281.83" r="1.25" fill="#000"/>
<circle cx="106.08" cy="286.18" r="1.25" fill="#000"/>
<circle cx="107.11" cy="283.11" r="1.25" fill="#000"/>
<line x1="106.08" y1="298.68" x2="106.08" y2="292.99" stroke="#000" stroke-width="0.6" />
<line x1="104.56" y1="298.68" x2="107.61" y2="298.68" stroke="#000" stroke-width="0.6" />
<line x1="104.56" y1="292.99" x2="107.61" y2="292.99" stroke="#000" stroke-width="0.6" />
<circle cx="105.06" cy="293.56" r="1.25" fill="#000"/>
<circle cx="106.08" cy="298.4" r="1.25" fill="#000"/>
<circle cx="107.11" cy="294.98" r="1.25" fill="#000"/>
<circle cx="111.22" cy="335" r="1.25" fill="#000"/>
<circle cx="113.08" cy="335.58" r="1.25" fill="#000"/>
<circle cx="114.95" cy="335.17" r="1.25" fill="#000"/>
<line x1="120.08" y1="292.7" x2="120.08" y2="286.44" stroke="#000" stroke-width="0.6" />
<line x1="118.56" y1="292.7" x2="121.61" y2="292.7" stroke="#000" stroke-width="0.6" />
<line x1="118.56" y1="286.44" x2="121.61" y2="286.44" stroke="#000" stroke-width="0.6" />
<circle cx="119.52" cy="287.06" r="1.25" fill="#000"/>
<circle cx="120.08" cy="292.39" r="1.25" fill="#000"/>
<circle cx="120.64" cy="288.63" r="1.25" fill="#000"/>
<line x1="44.1" y1="221.45" x2="44.1" y2="336.05" stroke="#000" stroke-width="0.7" />
<line x1="44.1" y1="335.7" x2="126.7" y2="335.7" stroke="#000" stroke-width="0.7" />
<line x1="39.7" y1="335.7" x2="44.1" y2="335.7" stroke="#000" stroke-width="0.7" />
<text x="38.6" y="338.45" font-size="8.0" text-anchor="end" fill="#1a1a1a" >0</text>
<line x1="39.7" y1="307.23" x2="44.1" y2="307.23" stroke="#000" stroke-width="0.7" />
<text x="38.6" y="309.98" font-size="8.0" text-anchor="end" fill="#1a1a1a" >10</text>
<line x1="39.7" y1="278.75" x2="44.1" y2="278.75" stroke="#000" stroke-width="0.7" />
<text x="38.6" y="281.5" font-size="8.0" text-anchor="end" fill="#1a1a1a" >20</text>
<line x1="39.7" y1="250.28" x2="44.1" y2="250.28" stroke="#000" stroke-width="0.7" />
<text x="38.6" y="253.03" font-size="8.0" text-anchor="end" fill="#1a1a1a" >30</text>
<line x1="39.7" y1="221.8" x2="44.1" y2="221.8" stroke="#000" stroke-width="0.7" />
<text x="38.6" y="224.55" font-size="8.0" text-anchor="end" fill="#1a1a1a" >40</text>
<line x1="58.02" y1="335.7" x2="58.02" y2="340.1" stroke="#000" stroke-width="0.7" />
<text transform="translate(60.92,346.6) rotate(-45)" font-size="8.0" text-anchor="end" fill="#1a1a1a">pegRNA</text>
<line x1="85.55" y1="335.7" x2="85.55" y2="340.1" stroke="#000" stroke-width="0.7" />
<text transform="translate(88.45,346.6) rotate(-45)" font-size="8.0" text-anchor="end" fill="#1a1a1a">rSp-pegRNA</text>
<line x1="113.08" y1="335.7" x2="113.08" y2="340.1" stroke="#000" stroke-width="0.7" />
<text transform="translate(115.98,346.6) rotate(-45)" font-size="8.0" text-anchor="end" fill="#1a1a1a">C3-pegRNA</text>
<rect x="157.37" y="314.06" width="6.1" height="16.23" fill="#fff"/>
<path d="M157.37,315.9L159.04,314.06M157.37,318.6L161.49,314.06M157.37,321.3L163.47,314.59M157.37,324L163.47,317.29M157.37,326.7L163.47,319.99M157.37,329.4L163.47,322.69M159.01,330.29L163.47,325.39M161.47,330.29L163.47,328.09" stroke="#9abbe7" stroke-width="0.95" fill="none"/>
<rect x="157.37" y="314.06" width="6.1" height="16.23" fill="none" stroke="#444" stroke-width="0.5"/>
<rect x="157.37" y="330.29" width="6.1" height="5.41" fill="#6a9bd2" stroke="#111" stroke-width="0.55"/>
<rect x="164.37" y="288.43" width="6.1" height="47.27" fill="#f26b55" stroke="#111" stroke-width="0.55"/>
<rect x="171.37" y="265.08" width="6.1" height="70.62" fill="#d5d5d5" stroke="#111" stroke-width="0.65"/>
<line x1="160.42" y1="315.48" x2="160.42" y2="312.64" stroke="#000" stroke-width="0.6" />
<line x1="158.89" y1="315.48" x2="161.94" y2="315.48" stroke="#000" stroke-width="0.6" />
<line x1="158.89" y1="312.64" x2="161.94" y2="312.64" stroke="#000" stroke-width="0.6" />
<circle cx="159.39" cy="312.92" r="1.25" fill="#000"/>
<circle cx="160.42" cy="315.34" r="1.25" fill="#000"/>
<circle cx="161.44" cy="313.63" r="1.25" fill="#000"/>
<line x1="160.42" y1="330.86" x2="160.42" y2="329.72" stroke="#000" stroke-width="0.6" />
<line x1="158.89" y1="330.86" x2="161.94" y2="330.86" stroke="#000" stroke-width="0.6" />
<line x1="158.89" y1="329.72" x2="161.94" y2="329.72" stroke="#000" stroke-width="0.6" />
<circle cx="158.55" cy="329.83" r="1.25" fill="#000"/>
<circle cx="160.42" cy="330.8" r="1.25" fill="#000"/>
<circle cx="162.28" cy="330.12" r="1.25" fill="#000"/>
<line x1="167.42" y1="292.13" x2="167.42" y2="284.73" stroke="#000" stroke-width="0.6" />
<line x1="165.89" y1="292.13" x2="168.94" y2="292.13" stroke="#000" stroke-width="0.6" />
<line x1="165.89" y1="284.73" x2="168.94" y2="284.73" stroke="#000" stroke-width="0.6" />
<circle cx="166.86" cy="285.47" r="1.25" fill="#000"/>
<circle cx="167.42" cy="291.76" r="1.25" fill="#000"/>
<circle cx="167.98" cy="287.32" r="1.25" fill="#000"/>
<line x1="174.42" y1="269.92" x2="174.42" y2="260.24" stroke="#000" stroke-width="0.6" />
<line x1="172.89" y1="269.92" x2="175.94" y2="269.92" stroke="#000" stroke-width="0.6" />
<line x1="172.89" y1="260.24" x2="175.94" y2="260.24" stroke="#000" stroke-width="0.6" />
<circle cx="173.86" cy="261.21" r="1.25" fill="#000"/>
<circle cx="174.42" cy="269.44" r="1.25" fill="#000"/>
<circle cx="174.98" cy="263.63" r="1.25" fill="#000"/>
<rect x="184.9" y="252.27" width="6.1" height="15.09" fill="#fff"/>
<path d="M184.9,253.8L186.29,252.27M184.9,256.5L188.75,252.27M184.9,259.2L191,252.49M184.9,261.9L191,255.19M184.9,264.6L191,257.89M184.9,267.3L191,260.59M187.3,267.36L191,263.29M189.75,267.36L191,265.99" stroke="#9abbe7" stroke-width="0.95" fill="none"/>
<rect x="184.9" y="252.27" width="6.1" height="15.09" fill="none" stroke="#444" stroke-width="0.5"/>
<rect x="184.9" y="267.36" width="6.1" height="68.34" fill="#6a9bd2" stroke="#111" stroke-width="0.55"/>
<rect x="198.9" y="277.04" width="6.1" height="58.66" fill="#d5d5d5" stroke="#111" stroke-width="0.65"/>
<line x1="187.95" y1="257.96" x2="187.95" y2="246.57" stroke="#000" stroke-width="0.6" />
<line x1="186.43" y1="257.96" x2="189.48" y2="257.96" stroke="#000" stroke-width="0.6" />
<line x1="186.43" y1="246.57" x2="189.48" y2="246.57" stroke="#000" stroke-width="0.6" />
<circle cx="187.39" cy="247.71" r="1.25" fill="#000"/>
<circle cx="187.95" cy="257.39" r="1.25" fill="#000"/>
<circle cx="188.51" cy="250.56" r="1.25" fill="#000"/>
<line x1="187.95" y1="272.49" x2="187.95" y2="262.23" stroke="#000" stroke-width="0.6" />
<line x1="186.43" y1="272.49" x2="189.48" y2="272.49" stroke="#000" stroke-width="0.6" />
<line x1="186.43" y1="262.23" x2="189.48" y2="262.23" stroke="#000" stroke-width="0.6" />
<circle cx="187.39" cy="263.26" r="1.25" fill="#000"/>
<circle cx="187.95" cy="271.97" r="1.25" fill="#000"/>
<circle cx="188.51" cy="265.82" r="1.25" fill="#000"/>
<circle cx="193.08" cy="335" r="1.25" fill="#000"/>
<circle cx="194.95" cy="335.58" r="1.25" fill="#000"/>
<circle cx="196.82" cy="335.17" r="1.25" fill="#000"/>
<line x1="201.95" y1="283.31" x2="201.95" y2="270.78" stroke="#000" stroke-width="0.6" />
<line x1="200.43" y1="283.31" x2="203.48" y2="283.31" stroke="#000" stroke-width="0.6" />
<line x1="200.43" y1="270.78" x2="203.48" y2="270.78" stroke="#000" stroke-width="0.6" />
<circle cx="201.39" cy="272.03" r="1.25" fill="#000"/>
<circle cx="201.95" cy="282.68" r="1.25" fill="#000"/>
<circle cx="202.51" cy="275.16" r="1.25" fill="#000"/>
<rect x="212.43" y="279.03" width="6.1" height="8.83" fill="#fff"/>
<path d="M212.43,280.8L214.04,279.03M212.43,283.5L216.49,279.03M212.43,286.2L218.53,279.49M213.38,287.86L218.53,282.19M215.83,287.86L218.53,284.89M218.29,287.86L218.53,287.59" stroke="#9abbe7" stroke-width="0.95" fill="none"/>
<rect x="212.43" y="279.03" width="6.1" height="8.83" fill="none" stroke="#444" stroke-width="0.5"/>
<rect x="212.43" y="287.86" width="6.1" height="47.84" fill="#6a9bd2" stroke="#111" stroke-width="0.55"/>
<rect x="226.43" y="308.08" width="6.1" height="27.62" fill="#d5d5d5" stroke="#111" stroke-width="0.65"/>
<line x1="215.48" y1="296.12" x2="215.48" y2="261.95" stroke="#000" stroke-width="0.6" />
<line x1="213.96" y1="296.12" x2="217.01" y2="296.12" stroke="#000" stroke-width="0.6" />
<line x1="213.96" y1="261.95" x2="217.01" y2="261.95" stroke="#000" stroke-width="0.6" />
<circle cx="214.92" cy="265.37" r="1.25" fill="#000"/>
<circle cx="215.48" cy="294.41" r="1.25" fill="#000"/>
<circle cx="216.04" cy="273.91" r="1.25" fill="#000"/>
<line x1="215.48" y1="302.67" x2="215.48" y2="273.06" stroke="#000" stroke-width="0.6" />
<line x1="213.96" y1="302.67" x2="217.01" y2="302.67" stroke="#000" stroke-width="0.6" />
<line x1="213.96" y1="273.06" x2="217.01" y2="273.06" stroke="#000" stroke-width="0.6" />
<circle cx="214.92" cy="276.02" r="1.25" fill="#000"/>
<circle cx="215.48" cy="301.19" r="1.25" fill="#000"/>
<circle cx="216.04" cy="283.42" r="1.25" fill="#000"/>
<circle cx="220.62" cy="335" r="1.25" fill="#000"/>
<circle cx="222.48" cy="335.58" r="1.25" fill="#000"/>
<circle cx="224.35" cy="335.17" r="1.25" fill="#000"/>
<line x1="229.48" y1="318.05" x2="229.48" y2="298.11" stroke="#000" stroke-width="0.6" />
<line x1="227.96" y1="318.05" x2="231.01" y2="318.05" stroke="#000" stroke-width="0.6" />
<line x1="227.96" y1="298.11" x2="231.01" y2="298.11" stroke="#000" stroke-width="0.6" />
<circle cx="228.92" cy="300.11" r="1.25" fill="#000"/>
<circle cx="229.48" cy="317.05" r="1.25" fill="#000"/>
<circle cx="230.04" cy="305.09" r="1.25" fill="#000"/>
<line x1="153.5" y1="221.45" x2="153.5" y2="336.05" stroke="#000" stroke-width="0.7" />
<line x1="153.5" y1="335.7" x2="236.1" y2="335.7" stroke="#000" stroke-width="0.7" />
<line x1="149.1" y1="335.7" x2="153.5" y2="335.7" stroke="#000" stroke-width="0.7" />
<text x="148" y="338.45" font-size="8.0" text-anchor="end" fill="#1a1a1a" >0</text>
<line x1="149.1" y1="307.23" x2="153.5" y2="307.23" stroke="#000" stroke-width="0.7" />
<text x="148" y="309.98" font-size="8.0" text-anchor="end" fill="#1a1a1a" >10</text>
<line x1="149.1" y1="278.75" x2="153.5" y2="278.75" stroke="#000" stroke-width="0.7" />
<text x="148" y="281.5" font-size="8.0" text-anchor="end" fill="#1a1a1a" >20</text>
<line x1="149.1" y1="250.28" x2="153.5" y2="250.28" stroke="#000" stroke-width="0.7" />
<text x="148" y="253.03" font-size="8.0" text-anchor="end" fill="#1a1a1a" >30</text>
<line x1="149.1" y1="221.8" x2="153.5" y2="221.8" stroke="#000" stroke-width="0.7" />
<text x="148" y="224.55" font-size="8.0" text-anchor="end" fill="#1a1a1a" >40</text>
<line x1="167.42" y1="335.7" x2="167.42" y2="340.1" stroke="#000" stroke-width="0.7" />
<text transform="translate(170.32,346.6) rotate(-45)" font-size="8.0" text-anchor="end" fill="#1a1a1a">pegRNA</text>
<line x1="194.95" y1="335.7" x2="194.95" y2="340.1" stroke="#000" stroke-width="0.7" />
<text transform="translate(197.85,346.6) rotate(-45)" font-size="8.0" text-anchor="end" fill="#1a1a1a">rSp-pegRNA</text>
<line x1="222.48" y1="335.7" x2="222.48" y2="340.1" stroke="#000" stroke-width="0.7" />
<text transform="translate(225.38,346.6) rotate(-45)" font-size="8.0" text-anchor="end" fill="#1a1a1a">C3-pegRNA</text>
<rect x="269.47" y="273.62" width="6.1" height="45.56" fill="#fff"/>
<path d="M269.47,275.4L271.08,273.62M269.47,278.1L273.54,273.62M269.47,280.8L275.57,274.09M269.47,283.5L275.57,276.79M269.47,286.2L275.57,279.49M269.47,288.9L275.57,282.19M269.47,291.6L275.57,284.89M269.47,294.3L275.57,287.59M269.47,297L275.57,290.29M269.47,299.7L275.57,292.99M269.47,302.4L275.57,295.69M269.47,305.1L275.57,298.39M269.47,307.8L275.57,301.09M269.47,310.5L275.57,303.79M269.47,313.2L275.57,306.49M269.47,315.9L275.57,309.19M269.47,318.6L275.57,311.89M271.39,319.18L275.57,314.59M273.84,319.18L275.57,317.29" stroke="#9abbe7" stroke-width="0.95" fill="none"/>
<rect x="269.47" y="273.62" width="6.1" height="45.56" fill="none" stroke="#444" stroke-width="0.5"/>
<rect x="269.47" y="319.18" width="6.1" height="16.52" fill="#6a9bd2" stroke="#111" stroke-width="0.55"/>
<rect x="276.47" y="295.27" width="6.1" height="40.43" fill="#f26b55" stroke="#111" stroke-width="0.55"/>
<rect x="283.47" y="282.74" width="6.1" height="52.96" fill="#d5d5d5" stroke="#111" stroke-width="0.65"/>
<line x1="272.52" y1="275.05" x2="272.52" y2="272.2" stroke="#000" stroke-width="0.6" />
<line x1="270.99" y1="275.05" x2="274.04" y2="275.05" stroke="#000" stroke-width="0.6" />
<line x1="270.99" y1="272.2" x2="274.04" y2="272.2" stroke="#000" stroke-width="0.6" />
<circle cx="271.49" cy="272.49" r="1.25" fill="#000"/>
<circle cx="272.52" cy="274.91" r="1.25" fill="#000"/>
<circle cx="273.54" cy="273.2" r="1.25" fill="#000"/>
<line x1="272.52" y1="321.46" x2="272.52" y2="316.91" stroke="#000" stroke-width="0.6" />
<line x1="270.99" y1="321.46" x2="274.04" y2="321.46" stroke="#000" stroke-width="0.6" />
<line x1="270.99" y1="316.91" x2="274.04" y2="316.91" stroke="#000" stroke-width="0.6" />
<circle cx="271.49" cy="317.36" r="1.25" fill="#000"/>
<circle cx="272.52" cy="321.23" r="1.25" fill="#000"/>
<circle cx="273.54" cy="318.5" r="1.25" fill="#000"/>
<line x1="279.52" y1="298.68" x2="279.52" y2="291.85" stroke="#000" stroke-width="0.6" />
<line x1="277.99" y1="298.68" x2="281.04" y2="298.68" stroke="#000" stroke-width="0.6" />
<line x1="277.99" y1="291.85" x2="281.04" y2="291.85" stroke="#000" stroke-width="0.6" />
<circle cx="278.96" cy="292.53" r="1.25" fill="#000"/>
<circle cx="279.52" cy="298.34" r="1.25" fill="#000"/>
<circle cx="280.08" cy="294.24" r="1.25" fill="#000"/>
<line x1="286.52" y1="287.01" x2="286.52" y2="278.47" stroke="#000" stroke-width="0.6" />
<line x1="284.99" y1="287.01" x2="288.04" y2="287.01" stroke="#000" stroke-width="0.6" />
<line x1="284.99" y1="278.47" x2="288.04" y2="278.47" stroke="#000" stroke-width="0.6" />
<circle cx="285.96" cy="279.32" r="1.25" fill="#000"/>
<circle cx="286.52" cy="286.58" r="1.25" fill="#000"/>
<circle cx="287.08" cy="281.46" r="1.25" fill="#000"/>
<rect x="297" y="263.37" width="6.1" height="25.34" fill="#fff"/>
<path d="M297,264.6L298.12,263.37M297,267.3L300.57,263.37M297,270L303.02,263.37M297,272.7L303.1,265.99M297,275.4L303.1,268.69M297,278.1L303.1,271.39M297,280.8L303.1,274.09M297,283.5L303.1,276.79M297,286.2L303.1,279.49M297.17,288.72L303.1,282.19M299.62,288.72L303.1,284.89M302.08,288.72L303.1,287.59" stroke="#9abbe7" stroke-width="0.95" fill="none"/>
<rect x="297" y="263.37" width="6.1" height="25.34" fill="none" stroke="#444" stroke-width="0.5"/>
<rect x="297" y="288.72" width="6.1" height="46.98" fill="#6a9bd2" stroke="#111" stroke-width="0.55"/>
<rect x="311" y="281.6" width="6.1" height="54.1" fill="#d5d5d5" stroke="#111" stroke-width="0.65"/>
<line x1="300.05" y1="270.21" x2="300.05" y2="256.54" stroke="#000" stroke-width="0.6" />
<line x1="298.53" y1="270.21" x2="301.57" y2="270.21" stroke="#000" stroke-width="0.6" />
<line x1="298.53" y1="256.54" x2="301.57" y2="256.54" stroke="#000" stroke-width="0.6" />
<circle cx="299.49" cy="257.91" r="1.25" fill="#000"/>
<circle cx="300.05" cy="269.52" r="1.25" fill="#000"/>
<circle cx="300.61" cy="261.32" r="1.25" fill="#000"/>
<line x1="300.05" y1="293.56" x2="300.05" y2="283.88" stroke="#000" stroke-width="0.6" />
<line x1="298.53" y1="293.56" x2="301.57" y2="293.56" stroke="#000" stroke-width="0.6" />
<line x1="298.53" y1="283.88" x2="301.57" y2="283.88" stroke="#000" stroke-width="0.6" />
<circle cx="299.49" cy="284.84" r="1.25" fill="#000"/>
<circle cx="300.05" cy="293.07" r="1.25" fill="#000"/>
<circle cx="300.61" cy="287.26" r="1.25" fill="#000"/>
<circle cx="305.18" cy="334.86" r="1.25" fill="#000"/>
<circle cx="307.05" cy="335.44" r="1.25" fill="#000"/>
<circle cx="308.92" cy="335.03" r="1.25" fill="#000"/>
<line x1="314.05" y1="286.72" x2="314.05" y2="276.47" stroke="#000" stroke-width="0.6" />
<line x1="312.53" y1="286.72" x2="315.57" y2="286.72" stroke="#000" stroke-width="0.6" />
<line x1="312.53" y1="276.47" x2="315.57" y2="276.47" stroke="#000" stroke-width="0.6" />
<circle cx="313.49" cy="277.5" r="1.25" fill="#000"/>
<circle cx="314.05" cy="286.21" r="1.25" fill="#000"/>
<circle cx="314.61" cy="280.06" r="1.25" fill="#000"/>
<rect x="324.53" y="241.45" width="6.1" height="34.17" fill="#fff"/>
<path d="M324.53,243L325.94,241.45M324.53,245.7L328.4,241.45M324.53,248.4L330.63,241.69M324.53,251.1L330.63,244.39M324.53,253.8L330.63,247.09M324.53,256.5L330.63,249.79M324.53,259.2L330.63,252.49M324.53,261.9L330.63,255.19M324.53,264.6L330.63,257.89M324.53,267.3L330.63,260.59M324.53,270L330.63,263.29M324.53,272.7L330.63,265.99M324.53,275.4L330.63,268.69M326.79,275.62L330.63,271.39M329.24,275.62L330.63,274.09" stroke="#9abbe7" stroke-width="0.95" fill="none"/>
<rect x="324.53" y="241.45" width="6.1" height="34.17" fill="none" stroke="#444" stroke-width="0.5"/>
<rect x="324.53" y="275.62" width="6.1" height="60.08" fill="#6a9bd2" stroke="#111" stroke-width="0.55"/>
<rect x="338.53" y="277.04" width="6.1" height="58.66" fill="#d5d5d5" stroke="#111" stroke-width="0.65"/>
<line x1="327.58" y1="256.25" x2="327.58" y2="226.64" stroke="#000" stroke-width="0.6" />
<line x1="326.06" y1="256.25" x2="329.11" y2="256.25" stroke="#000" stroke-width="0.6" />
<line x1="326.06" y1="226.64" x2="329.11" y2="226.64" stroke="#000" stroke-width="0.6" />
<circle cx="327.02" cy="229.6" r="1.25" fill="#000"/>
<circle cx="327.58" cy="254.77" r="1.25" fill="#000"/>
<circle cx="328.14" cy="237.01" r="1.25" fill="#000"/>
<line x1="327.58" y1="285.58" x2="327.58" y2="265.65" stroke="#000" stroke-width="0.6" />
<line x1="326.06" y1="285.58" x2="329.11" y2="285.58" stroke="#000" stroke-width="0.6" />
<line x1="326.06" y1="265.65" x2="329.11" y2="265.65" stroke="#000" stroke-width="0.6" />
<circle cx="327.02" cy="267.64" r="1.25" fill="#000"/>
<circle cx="327.58" cy="284.59" r="1.25" fill="#000"/>
<circle cx="328.14" cy="272.63" r="1.25" fill="#000"/>
<circle cx="332.72" cy="334.71" r="1.25" fill="#000"/>
<circle cx="334.58" cy="335.3" r="1.25" fill="#000"/>
<circle cx="336.45" cy="334.89" r="1.25" fill="#000"/>
<line x1="341.58" y1="288.15" x2="341.58" y2="265.94" stroke="#000" stroke-width="0.6" />
<line x1="340.06" y1="288.15" x2="343.11" y2="288.15" stroke="#000" stroke-width="0.6" />
<line x1="340.06" y1="265.94" x2="343.11" y2="265.94" stroke="#000" stroke-width="0.6" />
<circle cx="341.02" cy="268.16" r="1.25" fill="#000"/>
<circle cx="341.58" cy="287.04" r="1.25" fill="#000"/>
<circle cx="342.14" cy="273.71" r="1.25" fill="#000"/>
<line x1="265.6" y1="221.45" x2="265.6" y2="336.05" stroke="#000" stroke-width="0.7" />
<line x1="265.6" y1="335.7" x2="348.2" y2="335.7" stroke="#000" stroke-width="0.7" />
<line x1="261.2" y1="335.7" x2="265.6" y2="335.7" stroke="#000" stroke-width="0.7" />
<text x="260.1" y="338.45" font-size="8.0" text-anchor="end" fill="#1a1a1a" >0</text>
<line x1="261.2" y1="307.23" x2="265.6" y2="307.23" stroke="#000" stroke-width="0.7" />
<text x="260.1" y="309.98" font-size="8.0" text-anchor="end" fill="#1a1a1a" >10</text>
<line x1="261.2" y1="278.75" x2="265.6" y2="278.75" stroke="#000" stroke-width="0.7" />
<text x="260.1" y="281.5" font-size="8.0" text-anchor="end" fill="#1a1a1a" >20</text>
<line x1="261.2" y1="250.28" x2="265.6" y2="250.28" stroke="#000" stroke-width="0.7" />
<text x="260.1" y="253.03" font-size="8.0" text-anchor="end" fill="#1a1a1a" >30</text>
<line x1="261.2" y1="221.8" x2="265.6" y2="221.8" stroke="#000" stroke-width="0.7" />
<text x="260.1" y="224.55" font-size="8.0" text-anchor="end" fill="#1a1a1a" >40</text>
<line x1="279.52" y1="335.7" x2="279.52" y2="340.1" stroke="#000" stroke-width="0.7" />
<text transform="translate(282.42,346.6) rotate(-45)" font-size="8.0" text-anchor="end" fill="#1a1a1a">pegRNA</text>
<line x1="307.05" y1="335.7" x2="307.05" y2="340.1" stroke="#000" stroke-width="0.7" />
<text transform="translate(309.95,346.6) rotate(-45)" font-size="8.0" text-anchor="end" fill="#1a1a1a">rSp-pegRNA</text>
<line x1="334.58" y1="335.7" x2="334.58" y2="340.1" stroke="#000" stroke-width="0.7" />
<text transform="translate(337.48,346.6) rotate(-45)" font-size="8.0" text-anchor="end" fill="#1a1a1a">C3-pegRNA</text>
<rect x="381.57" y="302.67" width="6.1" height="22.1" fill="#fff"/>
<path d="M381.57,305.1L383.78,302.67M381.57,307.8L386.23,302.67M381.57,310.5L387.67,303.79M381.57,313.2L387.67,306.49M381.57,315.9L387.67,309.19M381.57,318.6L387.67,311.89M381.57,321.3L387.67,314.59M381.57,324L387.67,317.29M383.33,324.77L387.67,319.99M385.78,324.77L387.67,322.69" stroke="#9abbe7" stroke-width="0.95" fill="none"/>
<rect x="381.57" y="302.67" width="6.1" height="22.1" fill="none" stroke="#444" stroke-width="0.5"/>
<rect x="381.57" y="324.77" width="6.1" height="10.93" fill="#6a9bd2" stroke="#111" stroke-width="0.55"/>
<rect x="388.57" y="310.64" width="6.1" height="25.06" fill="#f26b55" stroke="#111" stroke-width="0.55"/>
<rect x="395.57" y="271.92" width="6.1" height="63.78" fill="#d5d5d5" stroke="#111" stroke-width="0.65"/>
<line x1="384.62" y1="304.38" x2="384.62" y2="300.96" stroke="#000" stroke-width="0.6" />
<line x1="383.09" y1="304.38" x2="386.14" y2="304.38" stroke="#000" stroke-width="0.6" />
<line x1="383.09" y1="300.96" x2="386.14" y2="300.96" stroke="#000" stroke-width="0.6" />
<circle cx="383.59" cy="301.3" r="1.25" fill="#000"/>
<circle cx="384.62" cy="304.21" r="1.25" fill="#000"/>
<circle cx="385.64" cy="302.16" r="1.25" fill="#000"/>
<line x1="384.62" y1="325.68" x2="384.62" y2="323.85" stroke="#000" stroke-width="0.6" />
<line x1="383.09" y1="325.68" x2="386.14" y2="325.68" stroke="#000" stroke-width="0.6" />
<line x1="383.09" y1="323.85" x2="386.14" y2="323.85" stroke="#000" stroke-width="0.6" />
<circle cx="382.75" cy="324.04" r="1.25" fill="#000"/>
<circle cx="384.62" cy="325.59" r="1.25" fill="#000"/>
<circle cx="386.48" cy="324.49" r="1.25" fill="#000"/>
<line x1="391.62" y1="312.35" x2="391.62" y2="308.93" stroke="#000" stroke-width="0.6" />
<line x1="390.09" y1="312.35" x2="393.14" y2="312.35" stroke="#000" stroke-width="0.6" />
<line x1="390.09" y1="308.93" x2="393.14" y2="308.93" stroke="#000" stroke-width="0.6" />
<circle cx="390.59" cy="309.28" r="1.25" fill="#000"/>
<circle cx="391.62" cy="312.18" r="1.25" fill="#000"/>
<circle cx="392.64" cy="310.13" r="1.25" fill="#000"/>
<line x1="398.62" y1="275.9" x2="398.62" y2="267.93" stroke="#000" stroke-width="0.6" />
<line x1="397.09" y1="275.9" x2="400.14" y2="275.9" stroke="#000" stroke-width="0.6" />
<line x1="397.09" y1="267.93" x2="400.14" y2="267.93" stroke="#000" stroke-width="0.6" />
<circle cx="398.06" cy="268.73" r="1.25" fill="#000"/>
<circle cx="398.62" cy="275.5" r="1.25" fill="#000"/>
<circle cx="399.18" cy="270.72" r="1.25" fill="#000"/>
<rect x="409.1" y="283.31" width="6.1" height="12.53" fill="#fff"/>
<path d="M409.1,283.5L409.28,283.31M409.1,286.2L411.73,283.31M409.1,288.9L414.19,283.31M409.1,291.6L415.2,284.89M409.1,294.3L415.2,287.59M410.16,295.83L415.2,290.29M412.61,295.83L415.2,292.99M415.07,295.83L415.2,295.69" stroke="#9abbe7" stroke-width="0.95" fill="none"/>
<rect x="409.1" y="283.31" width="6.1" height="12.53" fill="none" stroke="#444" stroke-width="0.5"/>
<rect x="409.1" y="295.83" width="6.1" height="39.87" fill="#6a9bd2" stroke="#111" stroke-width="0.55"/>
<rect x="423.1" y="286.72" width="6.1" height="48.98" fill="#d5d5d5" stroke="#111" stroke-width="0.65"/>
<line x1="412.15" y1="302.1" x2="412.15" y2="264.51" stroke="#000" stroke-width="0.6" />
<line x1="410.62" y1="302.1" x2="413.67" y2="302.1" stroke="#000" stroke-width="0.6" />
<line x1="410.62" y1="264.51" x2="413.67" y2="264.51" stroke="#000" stroke-width="0.6" />
<circle cx="411.59" cy="268.27" r="1.25" fill="#000"/>
<circle cx="412.15" cy="300.22" r="1.25" fill="#000"/>
<circle cx="412.71" cy="277.67" r="1.25" fill="#000"/>
<line x1="412.15" y1="311.78" x2="412.15" y2="279.89" stroke="#000" stroke-width="0.6" />
<line x1="410.62" y1="311.78" x2="413.67" y2="311.78" stroke="#000" stroke-width="0.6" />
<line x1="410.62" y1="279.89" x2="413.67" y2="279.89" stroke="#000" stroke-width="0.6" />
<circle cx="411.59" cy="283.08" r="1.25" fill="#000"/>
<circle cx="412.15" cy="310.19" r="1.25" fill="#000"/>
<circle cx="412.71" cy="291.05" r="1.25" fill="#000"/>
<circle cx="417.28" cy="334.97" r="1.25" fill="#000"/>
<circle cx="419.15" cy="335.55" r="1.25" fill="#000"/>
<circle cx="421.02" cy="335.14" r="1.25" fill="#000"/>
<line x1="426.15" y1="301.53" x2="426.15" y2="271.92" stroke="#000" stroke-width="0.6" />
<line x1="424.62" y1="301.53" x2="427.67" y2="301.53" stroke="#000" stroke-width="0.6" />
<line x1="424.62" y1="271.92" x2="427.67" y2="271.92" stroke="#000" stroke-width="0.6" />
<circle cx="425.59" cy="274.88" r="1.25" fill="#000"/>
<circle cx="426.15" cy="300.05" r="1.25" fill="#000"/>
<circle cx="426.71" cy="282.28" r="1.25" fill="#000"/>
<rect x="436.63" y="268.5" width="6.1" height="17.08" fill="#fff"/>
<path d="M436.63,270L438,268.5M436.63,272.7L440.45,268.5M436.63,275.4L442.73,268.69M436.63,278.1L442.73,271.39M436.63,280.8L442.73,274.09M436.63,283.5L442.73,276.79M437.19,285.58L442.73,279.49M439.65,285.58L442.73,282.19M442.1,285.58L442.73,284.89" stroke="#9abbe7" stroke-width="0.95" fill="none"/>
<rect x="436.63" y="268.5" width="6.1" height="17.08" fill="none" stroke="#444" stroke-width="0.5"/>
<rect x="436.63" y="285.58" width="6.1" height="50.12" fill="#6a9bd2" stroke="#111" stroke-width="0.55"/>
<rect x="450.63" y="279.89" width="6.1" height="55.81" fill="#d5d5d5" stroke="#111" stroke-width="0.65"/>
<line x1="439.68" y1="300.39" x2="439.68" y2="236.61" stroke="#000" stroke-width="0.6" />
<line x1="438.16" y1="300.39" x2="441.21" y2="300.39" stroke="#000" stroke-width="0.6" />
<line x1="438.16" y1="236.61" x2="441.21" y2="236.61" stroke="#000" stroke-width="0.6" />
<circle cx="439.12" cy="242.99" r="1.25" fill="#000"/>
<circle cx="439.68" cy="297.2" r="1.25" fill="#000"/>
<circle cx="440.24" cy="258.93" r="1.25" fill="#000"/>
<line x1="439.68" y1="310.64" x2="439.68" y2="260.53" stroke="#000" stroke-width="0.6" />
<line x1="438.16" y1="310.64" x2="441.21" y2="310.64" stroke="#000" stroke-width="0.6" />
<line x1="438.16" y1="260.53" x2="441.21" y2="260.53" stroke="#000" stroke-width="0.6" />
<circle cx="439.12" cy="265.54" r="1.25" fill="#000"/>
<circle cx="439.68" cy="308.14" r="1.25" fill="#000"/>
<circle cx="440.24" cy="278.07" r="1.25" fill="#000"/>
<circle cx="444.82" cy="334.74" r="1.25" fill="#000"/>
<circle cx="446.68" cy="335.32" r="1.25" fill="#000"/>
<circle cx="448.55" cy="334.91" r="1.25" fill="#000"/>
<line x1="453.68" y1="302.67" x2="453.68" y2="257.11" stroke="#000" stroke-width="0.6" />
<line x1="452.16" y1="302.67" x2="455.21" y2="302.67" stroke="#000" stroke-width="0.6" />
<line x1="452.16" y1="257.11" x2="455.21" y2="257.11" stroke="#000" stroke-width="0.6" />
<circle cx="453.12" cy="261.66" r="1.25" fill="#000"/>
<circle cx="453.68" cy="300.39" r="1.25" fill="#000"/>
<circle cx="454.24" cy="273.06" r="1.25" fill="#000"/>
<line x1="377.7" y1="221.45" x2="377.7" y2="336.05" stroke="#000" stroke-width="0.7" />
<line x1="377.7" y1="335.7" x2="460.3" y2="335.7" stroke="#000" stroke-width="0.7" />
<line x1="373.3" y1="335.7" x2="377.7" y2="335.7" stroke="#000" stroke-width="0.7" />
<text x="372.2" y="338.45" font-size="8.0" text-anchor="end" fill="#1a1a1a" >0</text>
<line x1="373.3" y1="312.92" x2="377.7" y2="312.92" stroke="#000" stroke-width="0.7" />
<text x="372.2" y="315.67" font-size="8.0" text-anchor="end" fill="#1a1a1a" >2</text>
<line x1="373.3" y1="290.14" x2="377.7" y2="290.14" stroke="#000" stroke-width="0.7" />
<text x="372.2" y="292.89" font-size="8.0" text-anchor="end" fill="#1a1a1a" >4</text>
<line x1="373.3" y1="267.36" x2="377.7" y2="267.36" stroke="#000" stroke-width="0.7" />
<text x="372.2" y="270.11" font-size="8.0" text-anchor="end" fill="#1a1a1a" >6</text>
<line x1="373.3" y1="244.58" x2="377.7" y2="244.58" stroke="#000" stroke-width="0.7" />
<text x="372.2" y="247.33" font-size="8.0" text-anchor="end" fill="#1a1a1a" >8</text>
<line x1="373.3" y1="221.8" x2="377.7" y2="221.8" stroke="#000" stroke-width="0.7" />
<text x="372.2" y="224.55" font-size="8.0" text-anchor="end" fill="#1a1a1a" >10</text>
<line x1="391.62" y1="335.7" x2="391.62" y2="340.1" stroke="#000" stroke-width="0.7" />
<text transform="translate(394.52,346.6) rotate(-45)" font-size="8.0" text-anchor="end" fill="#1a1a1a">pegRNA</text>
<line x1="419.15" y1="335.7" x2="419.15" y2="340.1" stroke="#000" stroke-width="0.7" />
<text transform="translate(422.05,346.6) rotate(-45)" font-size="8.0" text-anchor="end" fill="#1a1a1a">rSp-pegRNA</text>
<line x1="446.68" y1="335.7" x2="446.68" y2="340.1" stroke="#000" stroke-width="0.7" />
<text transform="translate(449.58,346.6) rotate(-45)" font-size="8.0" text-anchor="end" fill="#1a1a1a">C3-pegRNA</text>
<rect x="49" y="469.01" width="9.5" height="31.61" fill="#fff"/>
<path d="M49,469.8L49.72,469.01M49,472.5L52.17,469.01M49,475.2L54.63,469.01M49,477.9L57.08,469.01M49,480.6L58.5,470.15M49,483.3L58.5,472.85M49,486L58.5,475.55M49,488.7L58.5,478.25M49,491.4L58.5,480.95M49,494.1L58.5,483.65M49,496.8L58.5,486.35M49,499.5L58.5,489.05M50.44,500.62L58.5,491.75M52.89,500.62L58.5,494.45M55.35,500.62L58.5,497.15M57.8,500.62L58.5,499.85" stroke="#9abbe7" stroke-width="0.95" fill="none"/>
<rect x="49" y="469.01" width="9.5" height="31.61" fill="none" stroke="#444" stroke-width="0.5"/>
<rect x="49" y="500.62" width="9.5" height="9.68" fill="#6a9bd2" stroke="#111" stroke-width="0.55"/>
<rect x="59.6" y="450.22" width="9.5" height="60.08" fill="#f26b55" stroke="#111" stroke-width="0.55"/>
<rect x="70.2" y="474.28" width="9.5" height="36.02" fill="#d5d5d5" stroke="#111" stroke-width="0.65"/>
<line x1="53.75" y1="469.58" x2="53.75" y2="468.44" stroke="#000" stroke-width="0.6" />
<line x1="51.37" y1="469.58" x2="56.12" y2="469.58" stroke="#000" stroke-width="0.6" />
<line x1="51.37" y1="468.44" x2="56.12" y2="468.44" stroke="#000" stroke-width="0.6" />
<circle cx="50.84" cy="468.56" r="1.25" fill="#000"/>
<circle cx="53.75" cy="469.52" r="1.25" fill="#000"/>
<circle cx="56.66" cy="468.84" r="1.25" fill="#000"/>
<line x1="53.75" y1="501.05" x2="53.75" y2="500.19" stroke="#000" stroke-width="0.6" />
<line x1="51.37" y1="501.05" x2="56.12" y2="501.05" stroke="#000" stroke-width="0.6" />
<line x1="51.37" y1="500.19" x2="56.12" y2="500.19" stroke="#000" stroke-width="0.6" />
<circle cx="50.84" cy="500.28" r="1.25" fill="#000"/>
<circle cx="53.75" cy="501" r="1.25" fill="#000"/>
<circle cx="56.66" cy="500.49" r="1.25" fill="#000"/>
<line x1="64.35" y1="450.5" x2="64.35" y2="449.93" stroke="#000" stroke-width="0.6" />
<line x1="61.97" y1="450.5" x2="66.72" y2="450.5" stroke="#000" stroke-width="0.6" />
<line x1="61.97" y1="449.93" x2="66.72" y2="449.93" stroke="#000" stroke-width="0.6" />
<circle cx="61.44" cy="449.94" r="1.25" fill="#000"/>
<circle cx="64.35" cy="450.53" r="1.25" fill="#000"/>
<circle cx="67.26" cy="450.12" r="1.25" fill="#000"/>
<line x1="74.95" y1="475.13" x2="74.95" y2="473.42" stroke="#000" stroke-width="0.6" />
<line x1="72.57" y1="475.13" x2="77.32" y2="475.13" stroke="#000" stroke-width="0.6" />
<line x1="72.57" y1="473.42" x2="77.32" y2="473.42" stroke="#000" stroke-width="0.6" />
<circle cx="72.04" cy="473.6" r="1.25" fill="#000"/>
<circle cx="74.95" cy="475.05" r="1.25" fill="#000"/>
<circle cx="77.86" cy="474.02" r="1.25" fill="#000"/>
<rect x="90.8" y="410.64" width="9.5" height="33.74" fill="#fff"/>
<path d="M90.8,413.1L93.04,410.64M90.8,415.8L95.49,410.64M90.8,418.5L97.95,410.64M90.8,421.2L100.3,410.75M90.8,423.9L100.3,413.45M90.8,426.6L100.3,416.15M90.8,429.3L100.3,418.85M90.8,432L100.3,421.55M90.8,434.7L100.3,424.25M90.8,437.4L100.3,426.95M90.8,440.1L100.3,429.65M90.8,442.8L100.3,432.35M91.82,444.38L100.3,435.05M94.27,444.38L100.3,437.75M96.73,444.38L100.3,440.45M99.18,444.38L100.3,443.15" stroke="#9abbe7" stroke-width="0.95" fill="none"/>
<rect x="90.8" y="410.64" width="9.5" height="33.74" fill="none" stroke="#444" stroke-width="0.5"/>
<rect x="90.8" y="444.38" width="9.5" height="65.92" fill="#6a9bd2" stroke="#111" stroke-width="0.55"/>
<rect x="112" y="473.14" width="9.5" height="37.16" fill="#d5d5d5" stroke="#111" stroke-width="0.65"/>
<line x1="95.55" y1="411.21" x2="95.55" y2="410.07" stroke="#000" stroke-width="0.6" />
<line x1="93.17" y1="411.21" x2="97.92" y2="411.21" stroke="#000" stroke-width="0.6" />
<line x1="93.17" y1="410.07" x2="97.92" y2="410.07" stroke="#000" stroke-width="0.6" />
<circle cx="92.64" cy="410.18" r="1.25" fill="#000"/>
<circle cx="95.55" cy="411.15" r="1.25" fill="#000"/>
<circle cx="98.46" cy="410.47" r="1.25" fill="#000"/>
<line x1="95.55" y1="444.95" x2="95.55" y2="443.81" stroke="#000" stroke-width="0.6" />
<line x1="93.17" y1="444.95" x2="97.92" y2="444.95" stroke="#000" stroke-width="0.6" />
<line x1="93.17" y1="443.81" x2="97.92" y2="443.81" stroke="#000" stroke-width="0.6" />
<circle cx="92.64" cy="443.92" r="1.25" fill="#000"/>
<circle cx="95.55" cy="444.89" r="1.25" fill="#000"/>
<circle cx="98.46" cy="444.21" r="1.25" fill="#000"/>
<circle cx="103.24" cy="509.6" r="1.25" fill="#000"/>
<circle cx="106.15" cy="510.18" r="1.25" fill="#000"/>
<circle cx="109.06" cy="509.77" r="1.25" fill="#000"/>
<line x1="116.75" y1="473.85" x2="116.75" y2="472.43" stroke="#000" stroke-width="0.6" />
<line x1="114.37" y1="473.85" x2="119.12" y2="473.85" stroke="#000" stroke-width="0.6" />
<line x1="114.37" y1="472.43" x2="119.12" y2="472.43" stroke="#000" stroke-width="0.6" />
<circle cx="113.84" cy="472.57" r="1.25" fill="#000"/>
<circle cx="116.75" cy="473.78" r="1.25" fill="#000"/>
<circle cx="119.66" cy="472.93" r="1.25" fill="#000"/>
<line x1="44.1" y1="396.05" x2="44.1" y2="510.65" stroke="#000" stroke-width="0.7" />
<line x1="44.1" y1="510.3" x2="126.7" y2="510.3" stroke="#000" stroke-width="0.7" />
<line x1="39.7" y1="510.3" x2="44.1" y2="510.3" stroke="#000" stroke-width="0.7" />
<text x="38.6" y="513.05" font-size="8.0" text-anchor="end" fill="#1a1a1a" >0</text>
<line x1="39.7" y1="481.82" x2="44.1" y2="481.82" stroke="#000" stroke-width="0.7" />
<text x="38.6" y="484.57" font-size="8.0" text-anchor="end" fill="#1a1a1a" >20</text>
<line x1="39.7" y1="453.35" x2="44.1" y2="453.35" stroke="#000" stroke-width="0.7" />
<text x="38.6" y="456.1" font-size="8.0" text-anchor="end" fill="#1a1a1a" >40</text>
<line x1="39.7" y1="424.88" x2="44.1" y2="424.88" stroke="#000" stroke-width="0.7" />
<text x="38.6" y="427.62" font-size="8.0" text-anchor="end" fill="#1a1a1a" >60</text>
<line x1="39.7" y1="396.4" x2="44.1" y2="396.4" stroke="#000" stroke-width="0.7" />
<text x="38.6" y="399.15" font-size="8.0" text-anchor="end" fill="#1a1a1a" >80</text>
<line x1="64.35" y1="510.3" x2="64.35" y2="514.7" stroke="#000" stroke-width="0.7" />
<text transform="translate(67.25,521.2) rotate(-45)" font-size="8.0" text-anchor="end" fill="#1a1a1a">pegRNA</text>
<line x1="106.15" y1="510.3" x2="106.15" y2="514.7" stroke="#000" stroke-width="0.7" />
<text transform="translate(109.05,521.2) rotate(-45)" font-size="8.0" text-anchor="end" fill="#1a1a1a">rSp-pegRNA</text>
<rect x="158.4" y="477.27" width="9.5" height="21.45" fill="#fff"/>
<path d="M158.4,477.9L158.97,477.27M158.4,480.6L161.43,477.27M158.4,483.3L163.88,477.27M158.4,486L166.34,477.27M158.4,488.7L167.9,478.25M158.4,491.4L167.9,480.95M158.4,494.1L167.9,483.65M158.4,496.8L167.9,486.35M159.11,498.72L167.9,489.05M161.56,498.72L167.9,491.75M164.02,498.72L167.9,494.45M166.47,498.72L167.9,497.15" stroke="#9abbe7" stroke-width="0.95" fill="none"/>
<rect x="158.4" y="477.27" width="9.5" height="21.45" fill="none" stroke="#444" stroke-width="0.5"/>
<rect x="158.4" y="498.72" width="9.5" height="11.58" fill="#6a9bd2" stroke="#111" stroke-width="0.55"/>
<rect x="169" y="439.11" width="9.5" height="71.19" fill="#f26b55" stroke="#111" stroke-width="0.55"/>
<rect x="179.6" y="472.33" width="9.5" height="37.97" fill="#d5d5d5" stroke="#111" stroke-width="0.65"/>
<line x1="163.15" y1="479.17" x2="163.15" y2="475.37" stroke="#000" stroke-width="0.6" />
<line x1="160.78" y1="479.17" x2="165.53" y2="479.17" stroke="#000" stroke-width="0.6" />
<line x1="160.78" y1="475.37" x2="165.53" y2="475.37" stroke="#000" stroke-width="0.6" />
<circle cx="161.55" cy="475.75" r="1.25" fill="#000"/>
<circle cx="163.15" cy="478.98" r="1.25" fill="#000"/>
<circle cx="164.75" cy="476.7" r="1.25" fill="#000"/>
<line x1="163.15" y1="499.67" x2="163.15" y2="497.77" stroke="#000" stroke-width="0.6" />
<line x1="160.78" y1="499.67" x2="165.53" y2="499.67" stroke="#000" stroke-width="0.6" />
<line x1="160.78" y1="497.77" x2="165.53" y2="497.77" stroke="#000" stroke-width="0.6" />
<circle cx="160.24" cy="497.96" r="1.25" fill="#000"/>
<circle cx="163.15" cy="499.57" r="1.25" fill="#000"/>
<circle cx="166.06" cy="498.44" r="1.25" fill="#000"/>
<line x1="173.75" y1="443.29" x2="173.75" y2="434.94" stroke="#000" stroke-width="0.6" />
<line x1="171.38" y1="443.29" x2="176.12" y2="443.29" stroke="#000" stroke-width="0.6" />
<line x1="171.38" y1="434.94" x2="176.12" y2="434.94" stroke="#000" stroke-width="0.6" />
<circle cx="172.88" cy="435.77" r="1.25" fill="#000"/>
<circle cx="173.75" cy="442.87" r="1.25" fill="#000"/>
<circle cx="174.62" cy="437.86" r="1.25" fill="#000"/>
<line x1="184.35" y1="473.47" x2="184.35" y2="471.19" stroke="#000" stroke-width="0.6" />
<line x1="181.97" y1="473.47" x2="186.72" y2="473.47" stroke="#000" stroke-width="0.6" />
<line x1="181.97" y1="471.19" x2="186.72" y2="471.19" stroke="#000" stroke-width="0.6" />
<circle cx="181.44" cy="471.42" r="1.25" fill="#000"/>
<circle cx="184.35" cy="473.36" r="1.25" fill="#000"/>
<circle cx="187.26" cy="471.99" r="1.25" fill="#000"/>
<rect x="200.2" y="405.51" width="9.5" height="31.51" fill="#fff"/>
<path d="M200.2,407.7L202.19,405.51M200.2,410.4L204.64,405.51M200.2,413.1L207.1,405.51M200.2,415.8L209.55,405.51M200.2,418.5L209.7,408.05M200.2,421.2L209.7,410.75M200.2,423.9L209.7,413.45M200.2,426.6L209.7,416.15M200.2,429.3L209.7,418.85M200.2,432L209.7,421.55M200.2,434.7L209.7,424.25M200.54,437.02L209.7,426.95M203,437.02L209.7,429.65M205.45,437.02L209.7,432.35M207.91,437.02L209.7,435.05" stroke="#9abbe7" stroke-width="0.95" fill="none"/>
<rect x="200.2" y="405.51" width="9.5" height="31.51" fill="none" stroke="#444" stroke-width="0.5"/>
<rect x="200.2" y="437.02" width="9.5" height="73.28" fill="#6a9bd2" stroke="#111" stroke-width="0.55"/>
<rect x="221.4" y="460.75" width="9.5" height="49.55" fill="#d5d5d5" stroke="#111" stroke-width="0.65"/>
<line x1="204.95" y1="408.36" x2="204.95" y2="402.66" stroke="#000" stroke-width="0.6" />
<line x1="202.57" y1="408.36" x2="207.32" y2="408.36" stroke="#000" stroke-width="0.6" />
<line x1="202.57" y1="402.66" x2="207.32" y2="402.66" stroke="#000" stroke-width="0.6" />
<circle cx="203.35" cy="403.23" r="1.25" fill="#000"/>
<circle cx="204.95" cy="408.07" r="1.25" fill="#000"/>
<circle cx="206.55" cy="404.66" r="1.25" fill="#000"/>
<line x1="204.95" y1="438.92" x2="204.95" y2="435.13" stroke="#000" stroke-width="0.6" />
<line x1="202.57" y1="438.92" x2="207.32" y2="438.92" stroke="#000" stroke-width="0.6" />
<line x1="202.57" y1="435.13" x2="207.32" y2="435.13" stroke="#000" stroke-width="0.6" />
<circle cx="203.35" cy="435.51" r="1.25" fill="#000"/>
<circle cx="204.95" cy="438.73" r="1.25" fill="#000"/>
<circle cx="206.55" cy="436.45" r="1.25" fill="#000"/>
<circle cx="212.64" cy="509.55" r="1.25" fill="#000"/>
<circle cx="215.55" cy="510.13" r="1.25" fill="#000"/>
<circle cx="218.46" cy="509.72" r="1.25" fill="#000"/>
<line x1="226.15" y1="462.65" x2="226.15" y2="458.86" stroke="#000" stroke-width="0.6" />
<line x1="223.77" y1="462.65" x2="228.52" y2="462.65" stroke="#000" stroke-width="0.6" />
<line x1="223.77" y1="458.86" x2="228.52" y2="458.86" stroke="#000" stroke-width="0.6" />
<circle cx="224.55" cy="459.23" r="1.25" fill="#000"/>
<circle cx="226.15" cy="462.46" r="1.25" fill="#000"/>
<circle cx="227.75" cy="460.18" r="1.25" fill="#000"/>
<line x1="153.5" y1="396.05" x2="153.5" y2="510.65" stroke="#000" stroke-width="0.7" />
<line x1="153.5" y1="510.3" x2="236.1" y2="510.3" stroke="#000" stroke-width="0.7" />
<line x1="149.1" y1="510.3" x2="153.5" y2="510.3" stroke="#000" stroke-width="0.7" />
<text x="148" y="513.05" font-size="8.0" text-anchor="end" fill="#1a1a1a" >0</text>
<line x1="149.1" y1="472.33" x2="153.5" y2="472.33" stroke="#000" stroke-width="0.7" />
<text x="148" y="475.08" font-size="8.0" text-anchor="end" fill="#1a1a1a" >20</text>
<line x1="149.1" y1="434.37" x2="153.5" y2="434.37" stroke="#000" stroke-width="0.7" />
<text x="148" y="437.12" font-size="8.0" text-anchor="end" fill="#1a1a1a" >40</text>
<line x1="149.1" y1="396.4" x2="153.5" y2="396.4" stroke="#000" stroke-width="0.7" />
<text x="148" y="399.15" font-size="8.0" text-anchor="end" fill="#1a1a1a" >60</text>
<line x1="173.75" y1="510.3" x2="173.75" y2="514.7" stroke="#000" stroke-width="0.7" />
<text transform="translate(176.65,521.2) rotate(-45)" font-size="8.0" text-anchor="end" fill="#1a1a1a">pegRNA</text>
<line x1="215.55" y1="510.3" x2="215.55" y2="514.7" stroke="#000" stroke-width="0.7" />
<text transform="translate(218.45,521.2) rotate(-45)" font-size="8.0" text-anchor="end" fill="#1a1a1a">rSp-pegRNA</text>
<rect x="270.5" y="458.19" width="9.5" height="28.48" fill="#fff"/>
<path d="M270.5,459L271.24,458.19M270.5,461.7L273.69,458.19M270.5,464.4L276.14,458.19M270.5,467.1L278.6,458.19M270.5,469.8L280,459.35M270.5,472.5L280,462.05M270.5,475.2L280,464.75M270.5,477.9L280,467.45M270.5,480.6L280,470.15M270.5,483.3L280,472.85M270.5,486L280,475.55M272.35,486.67L280,478.25M274.8,486.67L280,480.95M277.26,486.67L280,483.65M279.71,486.67L280,486.35" stroke="#9abbe7" stroke-width="0.95" fill="none"/>
<rect x="270.5" y="458.19" width="9.5" height="28.48" fill="none" stroke="#444" stroke-width="0.5"/>
<rect x="270.5" y="486.67" width="9.5" height="23.63" fill="#6a9bd2" stroke="#111" stroke-width="0.55"/>
<rect x="281.1" y="451.93" width="9.5" height="58.37" fill="#f26b55" stroke="#111" stroke-width="0.55"/>
<rect x="291.7" y="488.66" width="9.5" height="21.64" fill="#d5d5d5" stroke="#111" stroke-width="0.65"/>
<line x1="275.25" y1="461.32" x2="275.25" y2="455.06" stroke="#000" stroke-width="0.6" />
<line x1="272.88" y1="461.32" x2="277.62" y2="461.32" stroke="#000" stroke-width="0.6" />
<line x1="272.88" y1="455.06" x2="277.62" y2="455.06" stroke="#000" stroke-width="0.6" />
<circle cx="274.38" cy="455.68" r="1.25" fill="#000"/>
<circle cx="275.25" cy="461.01" r="1.25" fill="#000"/>
<circle cx="276.12" cy="457.25" r="1.25" fill="#000"/>
<line x1="275.25" y1="487.95" x2="275.25" y2="485.38" stroke="#000" stroke-width="0.6" />
<line x1="272.88" y1="487.95" x2="277.62" y2="487.95" stroke="#000" stroke-width="0.6" />
<line x1="272.88" y1="485.38" x2="277.62" y2="485.38" stroke="#000" stroke-width="0.6" />
<circle cx="272.34" cy="485.64" r="1.25" fill="#000"/>
<circle cx="275.25" cy="487.82" r="1.25" fill="#000"/>
<circle cx="278.16" cy="486.28" r="1.25" fill="#000"/>
<line x1="285.85" y1="453.35" x2="285.85" y2="450.5" stroke="#000" stroke-width="0.6" />
<line x1="283.48" y1="453.35" x2="288.23" y2="453.35" stroke="#000" stroke-width="0.6" />
<line x1="283.48" y1="450.5" x2="288.23" y2="450.5" stroke="#000" stroke-width="0.6" />
<circle cx="284.25" cy="450.79" r="1.25" fill="#000"/>
<circle cx="285.85" cy="453.21" r="1.25" fill="#000"/>
<circle cx="287.45" cy="451.5" r="1.25" fill="#000"/>
<line x1="296.45" y1="489.23" x2="296.45" y2="488.09" stroke="#000" stroke-width="0.6" />
<line x1="294.08" y1="489.23" x2="298.83" y2="489.23" stroke="#000" stroke-width="0.6" />
<line x1="294.08" y1="488.09" x2="298.83" y2="488.09" stroke="#000" stroke-width="0.6" />
<circle cx="293.54" cy="488.2" r="1.25" fill="#000"/>
<circle cx="296.45" cy="489.17" r="1.25" fill="#000"/>
<circle cx="299.36" cy="488.49" r="1.25" fill="#000"/>
<rect x="312.3" y="405.37" width="9.5" height="34.17" fill="#fff"/>
<path d="M312.3,407.7L314.42,405.37M312.3,410.4L316.87,405.37M312.3,413.1L319.33,405.37M312.3,415.8L321.78,405.37M312.3,418.5L321.8,408.05M312.3,421.2L321.8,410.75M312.3,423.9L321.8,413.45M312.3,426.6L321.8,416.15M312.3,429.3L321.8,418.85M312.3,432L321.8,421.55M312.3,434.7L321.8,424.25M312.3,437.4L321.8,426.95M312.81,439.54L321.8,429.65M315.26,439.54L321.8,432.35M317.72,439.54L321.8,435.05M320.17,439.54L321.8,437.75" stroke="#9abbe7" stroke-width="0.95" fill="none"/>
<rect x="312.3" y="405.37" width="9.5" height="34.17" fill="none" stroke="#444" stroke-width="0.5"/>
<rect x="312.3" y="439.54" width="9.5" height="70.76" fill="#6a9bd2" stroke="#111" stroke-width="0.55"/>
<rect x="333.5" y="481.26" width="9.5" height="29.04" fill="#d5d5d5" stroke="#111" stroke-width="0.65"/>
<line x1="317.05" y1="407.51" x2="317.05" y2="403.23" stroke="#000" stroke-width="0.6" />
<line x1="314.68" y1="407.51" x2="319.43" y2="407.51" stroke="#000" stroke-width="0.6" />
<line x1="314.68" y1="403.23" x2="319.43" y2="403.23" stroke="#000" stroke-width="0.6" />
<circle cx="315.45" cy="403.66" r="1.25" fill="#000"/>
<circle cx="317.05" cy="407.29" r="1.25" fill="#000"/>
<circle cx="318.65" cy="404.73" r="1.25" fill="#000"/>
<line x1="317.05" y1="441.25" x2="317.05" y2="437.83" stroke="#000" stroke-width="0.6" />
<line x1="314.68" y1="441.25" x2="319.43" y2="441.25" stroke="#000" stroke-width="0.6" />
<line x1="314.68" y1="437.83" x2="319.43" y2="437.83" stroke="#000" stroke-width="0.6" />
<circle cx="315.45" cy="438.17" r="1.25" fill="#000"/>
<circle cx="317.05" cy="441.08" r="1.25" fill="#000"/>
<circle cx="318.65" cy="439.03" r="1.25" fill="#000"/>
<circle cx="324.74" cy="509.46" r="1.25" fill="#000"/>
<circle cx="327.65" cy="510.04" r="1.25" fill="#000"/>
<circle cx="330.56" cy="509.63" r="1.25" fill="#000"/>
<line x1="338.25" y1="481.68" x2="338.25" y2="480.83" stroke="#000" stroke-width="0.6" />
<line x1="335.88" y1="481.68" x2="340.63" y2="481.68" stroke="#000" stroke-width="0.6" />
<line x1="335.88" y1="480.83" x2="340.63" y2="480.83" stroke="#000" stroke-width="0.6" />
<circle cx="335.34" cy="480.91" r="1.25" fill="#000"/>
<circle cx="338.25" cy="481.64" r="1.25" fill="#000"/>
<circle cx="341.16" cy="481.13" r="1.25" fill="#000"/>
<line x1="265.6" y1="396.05" x2="265.6" y2="510.65" stroke="#000" stroke-width="0.7" />
<line x1="265.6" y1="510.3" x2="348.2" y2="510.3" stroke="#000" stroke-width="0.7" />
<line x1="261.2" y1="510.3" x2="265.6" y2="510.3" stroke="#000" stroke-width="0.7" />
<text x="260.1" y="513.05" font-size="8.0" text-anchor="end" fill="#1a1a1a" >0</text>
<line x1="261.2" y1="481.82" x2="265.6" y2="481.82" stroke="#000" stroke-width="0.7" />
<text x="260.1" y="484.57" font-size="8.0" text-anchor="end" fill="#1a1a1a" >20</text>
<line x1="261.2" y1="453.35" x2="265.6" y2="453.35" stroke="#000" stroke-width="0.7" />
<text x="260.1" y="456.1" font-size="8.0" text-anchor="end" fill="#1a1a1a" >40</text>
<line x1="261.2" y1="424.88" x2="265.6" y2="424.88" stroke="#000" stroke-width="0.7" />
<text x="260.1" y="427.62" font-size="8.0" text-anchor="end" fill="#1a1a1a" >60</text>
<line x1="261.2" y1="396.4" x2="265.6" y2="396.4" stroke="#000" stroke-width="0.7" />
<text x="260.1" y="399.15" font-size="8.0" text-anchor="end" fill="#1a1a1a" >80</text>
<line x1="285.85" y1="510.3" x2="285.85" y2="514.7" stroke="#000" stroke-width="0.7" />
<text transform="translate(288.75,521.2) rotate(-45)" font-size="8.0" text-anchor="end" fill="#1a1a1a">pegRNA</text>
<line x1="327.65" y1="510.3" x2="327.65" y2="514.7" stroke="#000" stroke-width="0.7" />
<text transform="translate(330.55,521.2) rotate(-45)" font-size="8.0" text-anchor="end" fill="#1a1a1a">rSp-pegRNA</text>
<rect x="382.6" y="451.93" width="9.5" height="25.34" fill="#fff"/>
<path d="M382.6,453.6L384.12,451.93M382.6,456.3L386.58,451.93M382.6,459L389.03,451.93M382.6,461.7L391.49,451.93M382.6,464.4L392.1,453.95M382.6,467.1L392.1,456.65M382.6,469.8L392.1,459.35M382.6,472.5L392.1,462.05M382.6,475.2L392.1,464.75M383.17,477.27L392.1,467.45M385.63,477.27L392.1,470.15M388.08,477.27L392.1,472.85M390.54,477.27L392.1,475.55" stroke="#9abbe7" stroke-width="0.95" fill="none"/>
<rect x="382.6" y="451.93" width="9.5" height="25.34" fill="none" stroke="#444" stroke-width="0.5"/>
<rect x="382.6" y="477.27" width="9.5" height="33.03" fill="#6a9bd2" stroke="#111" stroke-width="0.55"/>
<rect x="393.2" y="464.17" width="9.5" height="46.13" fill="#f26b55" stroke="#111" stroke-width="0.55"/>
<rect x="403.8" y="492.65" width="9.5" height="17.65" fill="#d5d5d5" stroke="#111" stroke-width="0.65"/>
<line x1="387.35" y1="455.49" x2="387.35" y2="448.37" stroke="#000" stroke-width="0.6" />
<line x1="384.97" y1="455.49" x2="389.72" y2="455.49" stroke="#000" stroke-width="0.6" />
<line x1="384.97" y1="448.37" x2="389.72" y2="448.37" stroke="#000" stroke-width="0.6" />
<circle cx="386.48" cy="449.08" r="1.25" fill="#000"/>
<circle cx="387.35" cy="455.13" r="1.25" fill="#000"/>
<circle cx="388.22" cy="450.86" r="1.25" fill="#000"/>
<line x1="387.35" y1="479.12" x2="387.35" y2="475.42" stroke="#000" stroke-width="0.6" />
<line x1="384.97" y1="479.12" x2="389.72" y2="479.12" stroke="#000" stroke-width="0.6" />
<line x1="384.97" y1="475.42" x2="389.72" y2="475.42" stroke="#000" stroke-width="0.6" />
<circle cx="385.75" cy="475.79" r="1.25" fill="#000"/>
<circle cx="387.35" cy="478.93" r="1.25" fill="#000"/>
<circle cx="388.95" cy="476.71" r="1.25" fill="#000"/>
<line x1="397.95" y1="465.17" x2="397.95" y2="463.17" stroke="#000" stroke-width="0.6" />
<line x1="395.57" y1="465.17" x2="400.32" y2="465.17" stroke="#000" stroke-width="0.6" />
<line x1="395.57" y1="463.17" x2="400.32" y2="463.17" stroke="#000" stroke-width="0.6" />
<circle cx="395.04" cy="463.37" r="1.25" fill="#000"/>
<circle cx="397.95" cy="465.07" r="1.25" fill="#000"/>
<circle cx="400.86" cy="463.87" r="1.25" fill="#000"/>
<line x1="408.55" y1="493.07" x2="408.55" y2="492.22" stroke="#000" stroke-width="0.6" />
<line x1="406.18" y1="493.07" x2="410.93" y2="493.07" stroke="#000" stroke-width="0.6" />
<line x1="406.18" y1="492.22" x2="410.93" y2="492.22" stroke="#000" stroke-width="0.6" />
<circle cx="405.64" cy="492.3" r="1.25" fill="#000"/>
<circle cx="408.55" cy="493.03" r="1.25" fill="#000"/>
<circle cx="411.46" cy="492.52" r="1.25" fill="#000"/>
<rect x="424.4" y="418.75" width="9.5" height="32.03" fill="#fff"/>
<path d="M424.4,421.2L426.62,418.75M424.4,423.9L429.08,418.75M424.4,426.6L431.53,418.75M424.4,429.3L433.9,418.85M424.4,432L433.9,421.55M424.4,434.7L433.9,424.25M424.4,437.4L433.9,426.95M424.4,440.1L433.9,429.65M424.4,442.8L433.9,432.35M424.4,445.5L433.9,435.05M424.4,448.2L433.9,437.75M424.5,450.79L433.9,440.45M426.96,450.79L433.9,443.15M429.41,450.79L433.9,445.85M431.87,450.79L433.9,448.55" stroke="#9abbe7" stroke-width="0.95" fill="none"/>
<rect x="424.4" y="418.75" width="9.5" height="32.03" fill="none" stroke="#444" stroke-width="0.5"/>
<rect x="424.4" y="450.79" width="9.5" height="59.51" fill="#6a9bd2" stroke="#111" stroke-width="0.55"/>
<rect x="445.6" y="482.82" width="9.5" height="27.48" fill="#d5d5d5" stroke="#111" stroke-width="0.65"/>
<line x1="429.15" y1="420.6" x2="429.15" y2="416.9" stroke="#000" stroke-width="0.6" />
<line x1="426.77" y1="420.6" x2="431.52" y2="420.6" stroke="#000" stroke-width="0.6" />
<line x1="426.77" y1="416.9" x2="431.52" y2="416.9" stroke="#000" stroke-width="0.6" />
<circle cx="427.55" cy="417.27" r="1.25" fill="#000"/>
<circle cx="429.15" cy="420.42" r="1.25" fill="#000"/>
<circle cx="430.75" cy="418.2" r="1.25" fill="#000"/>
<line x1="429.15" y1="452.21" x2="429.15" y2="449.36" stroke="#000" stroke-width="0.6" />
<line x1="426.77" y1="452.21" x2="431.52" y2="452.21" stroke="#000" stroke-width="0.6" />
<line x1="426.77" y1="449.36" x2="431.52" y2="449.36" stroke="#000" stroke-width="0.6" />
<circle cx="427.55" cy="449.65" r="1.25" fill="#000"/>
<circle cx="429.15" cy="452.07" r="1.25" fill="#000"/>
<circle cx="430.75" cy="450.36" r="1.25" fill="#000"/>
<circle cx="436.84" cy="509.46" r="1.25" fill="#000"/>
<circle cx="439.75" cy="510.04" r="1.25" fill="#000"/>
<circle cx="442.66" cy="509.63" r="1.25" fill="#000"/>
<line x1="450.35" y1="483.53" x2="450.35" y2="482.11" stroke="#000" stroke-width="0.6" />
<line x1="447.98" y1="483.53" x2="452.73" y2="483.53" stroke="#000" stroke-width="0.6" />
<line x1="447.98" y1="482.11" x2="452.73" y2="482.11" stroke="#000" stroke-width="0.6" />
<circle cx="447.44" cy="482.25" r="1.25" fill="#000"/>
<circle cx="450.35" cy="483.46" r="1.25" fill="#000"/>
<circle cx="453.26" cy="482.61" r="1.25" fill="#000"/>
<line x1="377.7" y1="396.05" x2="377.7" y2="510.65" stroke="#000" stroke-width="0.7" />
<line x1="377.7" y1="510.3" x2="460.3" y2="510.3" stroke="#000" stroke-width="0.7" />
<line x1="373.3" y1="510.3" x2="377.7" y2="510.3" stroke="#000" stroke-width="0.7" />
<text x="372.2" y="513.05" font-size="8.0" text-anchor="end" fill="#1a1a1a" >0</text>
<line x1="373.3" y1="481.82" x2="377.7" y2="481.82" stroke="#000" stroke-width="0.7" />
<text x="372.2" y="484.57" font-size="8.0" text-anchor="end" fill="#1a1a1a" >20</text>
<line x1="373.3" y1="453.35" x2="377.7" y2="453.35" stroke="#000" stroke-width="0.7" />
<text x="372.2" y="456.1" font-size="8.0" text-anchor="end" fill="#1a1a1a" >40</text>
<line x1="373.3" y1="424.88" x2="377.7" y2="424.88" stroke="#000" stroke-width="0.7" />
<text x="372.2" y="427.62" font-size="8.0" text-anchor="end" fill="#1a1a1a" >60</text>
<line x1="373.3" y1="396.4" x2="377.7" y2="396.4" stroke="#000" stroke-width="0.7" />
<text x="372.2" y="399.15" font-size="8.0" text-anchor="end" fill="#1a1a1a" >80</text>
<line x1="397.95" y1="510.3" x2="397.95" y2="514.7" stroke="#000" stroke-width="0.7" />
<text transform="translate(400.85,521.2) rotate(-45)" font-size="8.0" text-anchor="end" fill="#1a1a1a">pegRNA</text>
<line x1="439.75" y1="510.3" x2="439.75" y2="514.7" stroke="#000" stroke-width="0.7" />
<text transform="translate(442.65,521.2) rotate(-45)" font-size="8.0" text-anchor="end" fill="#1a1a1a">rSp-pegRNA</text>
<rect x="49" y="617.27" width="9.5" height="23.49" fill="#fff"/>
<path d="M49,618.3L49.93,617.27M49,621L52.39,617.27M49,623.7L54.84,617.27M49,626.4L57.3,617.27M49,629.1L58.5,618.65M49,631.8L58.5,621.35M49,634.5L58.5,624.05M49,637.2L58.5,626.75M49,639.9L58.5,629.45M50.67,640.76L58.5,632.15M53.12,640.76L58.5,634.85M55.58,640.76L58.5,637.55M58.03,640.76L58.5,640.25" stroke="#9abbe7" stroke-width="0.95" fill="none"/>
<rect x="49" y="617.27" width="9.5" height="23.49" fill="none" stroke="#444" stroke-width="0.5"/>
<rect x="49" y="640.76" width="9.5" height="44.14" fill="#6a9bd2" stroke="#111" stroke-width="0.55"/>
<rect x="59.6" y="663.12" width="9.5" height="21.78" fill="#f26b55" stroke="#111" stroke-width="0.55"/>
<rect x="70.2" y="665.39" width="9.5" height="19.51" fill="#d5d5d5" stroke="#111" stroke-width="0.65"/>
<line x1="53.75" y1="618.27" x2="53.75" y2="616.28" stroke="#000" stroke-width="0.6" />
<line x1="51.37" y1="618.27" x2="56.12" y2="618.27" stroke="#000" stroke-width="0.6" />
<line x1="51.37" y1="616.28" x2="56.12" y2="616.28" stroke="#000" stroke-width="0.6" />
<circle cx="50.84" cy="616.47" r="1.25" fill="#000"/>
<circle cx="53.75" cy="618.17" r="1.25" fill="#000"/>
<circle cx="56.66" cy="616.97" r="1.25" fill="#000"/>
<line x1="53.75" y1="641.76" x2="53.75" y2="639.77" stroke="#000" stroke-width="0.6" />
<line x1="51.37" y1="641.76" x2="56.12" y2="641.76" stroke="#000" stroke-width="0.6" />
<line x1="51.37" y1="639.77" x2="56.12" y2="639.77" stroke="#000" stroke-width="0.6" />
<circle cx="50.84" cy="639.97" r="1.25" fill="#000"/>
<circle cx="53.75" cy="641.66" r="1.25" fill="#000"/>
<circle cx="56.66" cy="640.46" r="1.25" fill="#000"/>
<line x1="64.35" y1="663.4" x2="64.35" y2="662.83" stroke="#000" stroke-width="0.6" />
<line x1="61.97" y1="663.4" x2="66.72" y2="663.4" stroke="#000" stroke-width="0.6" />
<line x1="61.97" y1="662.83" x2="66.72" y2="662.83" stroke="#000" stroke-width="0.6" />
<circle cx="61.44" cy="662.84" r="1.25" fill="#000"/>
<circle cx="64.35" cy="663.42" r="1.25" fill="#000"/>
<circle cx="67.26" cy="663.01" r="1.25" fill="#000"/>
<line x1="74.95" y1="665.82" x2="74.95" y2="664.97" stroke="#000" stroke-width="0.6" />
<line x1="72.57" y1="665.82" x2="77.32" y2="665.82" stroke="#000" stroke-width="0.6" />
<line x1="72.57" y1="664.97" x2="77.32" y2="664.97" stroke="#000" stroke-width="0.6" />
<circle cx="72.04" cy="665.05" r="1.25" fill="#000"/>
<circle cx="74.95" cy="665.78" r="1.25" fill="#000"/>
<circle cx="77.86" cy="665.27" r="1.25" fill="#000"/>
<rect x="90.8" y="594.49" width="9.5" height="24.92" fill="#fff"/>
<path d="M90.8,596.7L92.81,594.49M90.8,599.4L95.26,594.49M90.8,602.1L97.72,594.49M90.8,604.8L100.17,594.49M90.8,607.5L100.3,597.05M90.8,610.2L100.3,599.75M90.8,612.9L100.3,602.45M90.8,615.6L100.3,605.15M90.8,618.3L100.3,607.85M92.25,619.41L100.3,610.55M94.7,619.41L100.3,613.25M97.16,619.41L100.3,615.95M99.61,619.41L100.3,618.65" stroke="#9abbe7" stroke-width="0.95" fill="none"/>
<rect x="90.8" y="594.49" width="9.5" height="24.92" fill="none" stroke="#444" stroke-width="0.5"/>
<rect x="90.8" y="619.41" width="9.5" height="65.49" fill="#6a9bd2" stroke="#111" stroke-width="0.55"/>
<rect x="101.4" y="683.48" width="9.5" height="1.42" fill="#f26b55" stroke="#111" stroke-width="0.55"/>
<rect x="112" y="664.11" width="9.5" height="20.79" fill="#d5d5d5" stroke="#111" stroke-width="0.65"/>
<line x1="95.55" y1="597.34" x2="95.55" y2="591.64" stroke="#000" stroke-width="0.6" />
<line x1="93.17" y1="597.34" x2="97.92" y2="597.34" stroke="#000" stroke-width="0.6" />
<line x1="93.17" y1="591.64" x2="97.92" y2="591.64" stroke="#000" stroke-width="0.6" />
<circle cx="93.95" cy="592.21" r="1.25" fill="#000"/>
<circle cx="95.55" cy="597.05" r="1.25" fill="#000"/>
<circle cx="97.15" cy="593.64" r="1.25" fill="#000"/>
<line x1="95.55" y1="621.4" x2="95.55" y2="617.41" stroke="#000" stroke-width="0.6" />
<line x1="93.17" y1="621.4" x2="97.92" y2="621.4" stroke="#000" stroke-width="0.6" />
<line x1="93.17" y1="617.41" x2="97.92" y2="617.41" stroke="#000" stroke-width="0.6" />
<circle cx="93.95" cy="617.81" r="1.25" fill="#000"/>
<circle cx="95.55" cy="621.2" r="1.25" fill="#000"/>
<circle cx="97.15" cy="618.81" r="1.25" fill="#000"/>
<line x1="106.15" y1="683.7" x2="106.15" y2="683.25" stroke="#000" stroke-width="0.6" />
<line x1="103.77" y1="683.7" x2="108.52" y2="683.7" stroke="#000" stroke-width="0.6" />
<line x1="103.77" y1="683.25" x2="108.52" y2="683.25" stroke="#000" stroke-width="0.6" />
<circle cx="103.24" cy="683.2" r="1.25" fill="#000"/>
<circle cx="106.15" cy="683.78" r="1.25" fill="#000"/>
<circle cx="109.06" cy="683.37" r="1.25" fill="#000"/>
<line x1="116.75" y1="664.68" x2="116.75" y2="663.54" stroke="#000" stroke-width="0.6" />
<line x1="114.37" y1="664.68" x2="119.12" y2="664.68" stroke="#000" stroke-width="0.6" />
<line x1="114.37" y1="663.54" x2="119.12" y2="663.54" stroke="#000" stroke-width="0.6" />
<circle cx="113.84" cy="663.66" r="1.25" fill="#000"/>
<circle cx="116.75" cy="664.63" r="1.25" fill="#000"/>
<circle cx="119.66" cy="663.94" r="1.25" fill="#000"/>
<line x1="44.1" y1="570.65" x2="44.1" y2="685.25" stroke="#000" stroke-width="0.7" />
<line x1="44.1" y1="684.9" x2="126.7" y2="684.9" stroke="#000" stroke-width="0.7" />
<line x1="39.7" y1="684.9" x2="44.1" y2="684.9" stroke="#000" stroke-width="0.7" />
<text x="38.6" y="687.65" font-size="8.0" text-anchor="end" fill="#1a1a1a" >0</text>
<line x1="39.7" y1="656.42" x2="44.1" y2="656.42" stroke="#000" stroke-width="0.7" />
<text x="38.6" y="659.17" font-size="8.0" text-anchor="end" fill="#1a1a1a" >20</text>
<line x1="39.7" y1="627.95" x2="44.1" y2="627.95" stroke="#000" stroke-width="0.7" />
<text x="38.6" y="630.7" font-size="8.0" text-anchor="end" fill="#1a1a1a" >40</text>
<line x1="39.7" y1="599.48" x2="44.1" y2="599.48" stroke="#000" stroke-width="0.7" />
<text x="38.6" y="602.23" font-size="8.0" text-anchor="end" fill="#1a1a1a" >60</text>
<line x1="39.7" y1="571" x2="44.1" y2="571" stroke="#000" stroke-width="0.7" />
<text x="38.6" y="573.75" font-size="8.0" text-anchor="end" fill="#1a1a1a" >80</text>
<line x1="64.35" y1="684.9" x2="64.35" y2="689.3" stroke="#000" stroke-width="0.7" />
<text transform="translate(67.25,695.8) rotate(-45)" font-size="8.0" text-anchor="end" fill="#1a1a1a">pegRNA</text>
<line x1="106.15" y1="684.9" x2="106.15" y2="689.3" stroke="#000" stroke-width="0.7" />
<text transform="translate(109.05,695.8) rotate(-45)" font-size="8.0" text-anchor="end" fill="#1a1a1a">rSp-pegRNA</text>
<rect x="158.4" y="642.98" width="9.5" height="16.17" fill="#fff"/>
<path d="M158.4,645.3L160.5,642.98M158.4,648L162.96,642.98M158.4,650.7L165.41,642.98M158.4,653.4L167.87,642.98M158.4,656.1L167.9,645.65M158.4,658.8L167.9,648.35M160.53,659.16L167.9,651.05M162.98,659.16L167.9,653.75M165.44,659.16L167.9,656.45" stroke="#9abbe7" stroke-width="0.95" fill="none"/>
<rect x="158.4" y="642.98" width="9.5" height="16.17" fill="none" stroke="#444" stroke-width="0.5"/>
<rect x="158.4" y="659.16" width="9.5" height="25.74" fill="#6a9bd2" stroke="#111" stroke-width="0.55"/>
<rect x="169" y="659.16" width="9.5" height="25.74" fill="#f26b55" stroke="#111" stroke-width="0.55"/>
<rect x="179.6" y="673.28" width="9.5" height="11.62" fill="#d5d5d5" stroke="#111" stroke-width="0.65"/>
<line x1="163.15" y1="646.63" x2="163.15" y2="639.34" stroke="#000" stroke-width="0.6" />
<line x1="160.78" y1="646.63" x2="165.53" y2="646.63" stroke="#000" stroke-width="0.6" />
<line x1="160.78" y1="639.34" x2="165.53" y2="639.34" stroke="#000" stroke-width="0.6" />
<circle cx="162.28" cy="640.07" r="1.25" fill="#000"/>
<circle cx="163.15" cy="646.27" r="1.25" fill="#000"/>
<circle cx="164.02" cy="641.89" r="1.25" fill="#000"/>
<line x1="163.15" y1="660.98" x2="163.15" y2="657.34" stroke="#000" stroke-width="0.6" />
<line x1="160.78" y1="660.98" x2="165.53" y2="660.98" stroke="#000" stroke-width="0.6" />
<line x1="160.78" y1="657.34" x2="165.53" y2="657.34" stroke="#000" stroke-width="0.6" />
<circle cx="161.55" cy="657.7" r="1.25" fill="#000"/>
<circle cx="163.15" cy="660.8" r="1.25" fill="#000"/>
<circle cx="164.75" cy="658.61" r="1.25" fill="#000"/>
<line x1="173.75" y1="660.98" x2="173.75" y2="657.34" stroke="#000" stroke-width="0.6" />
<line x1="171.38" y1="660.98" x2="176.12" y2="660.98" stroke="#000" stroke-width="0.6" />
<line x1="171.38" y1="657.34" x2="176.12" y2="657.34" stroke="#000" stroke-width="0.6" />
<circle cx="172.15" cy="657.7" r="1.25" fill="#000"/>
<circle cx="173.75" cy="660.8" r="1.25" fill="#000"/>
<circle cx="175.35" cy="658.61" r="1.25" fill="#000"/>
<line x1="184.35" y1="676.7" x2="184.35" y2="669.87" stroke="#000" stroke-width="0.6" />
<line x1="181.97" y1="676.7" x2="186.72" y2="676.7" stroke="#000" stroke-width="0.6" />
<line x1="181.97" y1="669.87" x2="186.72" y2="669.87" stroke="#000" stroke-width="0.6" />
<circle cx="183.48" cy="670.55" r="1.25" fill="#000"/>
<circle cx="184.35" cy="676.36" r="1.25" fill="#000"/>
<circle cx="185.22" cy="672.26" r="1.25" fill="#000"/>
<rect x="200.2" y="602.89" width="9.5" height="23.46" fill="#fff"/>
<path d="M200.2,604.8L201.93,602.89M200.2,607.5L204.39,602.89M200.2,610.2L206.84,602.89M200.2,612.9L209.3,602.89M200.2,615.6L209.7,605.15M200.2,618.3L209.7,607.85M200.2,621L209.7,610.55M200.2,623.7L209.7,613.25M200.24,626.36L209.7,615.95M202.7,626.36L209.7,618.65M205.15,626.36L209.7,621.35M207.6,626.36L209.7,624.05" stroke="#9abbe7" stroke-width="0.95" fill="none"/>
<rect x="200.2" y="602.89" width="9.5" height="23.46" fill="none" stroke="#444" stroke-width="0.5"/>
<rect x="200.2" y="626.36" width="9.5" height="58.54" fill="#6a9bd2" stroke="#111" stroke-width="0.55"/>
<rect x="210.8" y="682.85" width="9.5" height="2.05" fill="#f26b55" stroke="#111" stroke-width="0.55"/>
<rect x="221.4" y="665.31" width="9.5" height="19.59" fill="#d5d5d5" stroke="#111" stroke-width="0.65"/>
<line x1="204.95" y1="615.42" x2="204.95" y2="590.36" stroke="#000" stroke-width="0.6" />
<line x1="202.57" y1="615.42" x2="207.32" y2="615.42" stroke="#000" stroke-width="0.6" />
<line x1="202.57" y1="590.36" x2="207.32" y2="590.36" stroke="#000" stroke-width="0.6" />
<circle cx="204.08" cy="592.87" r="1.25" fill="#000"/>
<circle cx="204.95" cy="614.17" r="1.25" fill="#000"/>
<circle cx="205.82" cy="599.13" r="1.25" fill="#000"/>
<line x1="204.95" y1="635.92" x2="204.95" y2="616.79" stroke="#000" stroke-width="0.6" />
<line x1="202.57" y1="635.92" x2="207.32" y2="635.92" stroke="#000" stroke-width="0.6" />
<line x1="202.57" y1="616.79" x2="207.32" y2="616.79" stroke="#000" stroke-width="0.6" />
<circle cx="204.08" cy="618.7" r="1.25" fill="#000"/>
<circle cx="204.95" cy="634.97" r="1.25" fill="#000"/>
<circle cx="205.82" cy="623.49" r="1.25" fill="#000"/>
<line x1="215.55" y1="683.19" x2="215.55" y2="682.51" stroke="#000" stroke-width="0.6" />
<line x1="213.17" y1="683.19" x2="217.92" y2="683.19" stroke="#000" stroke-width="0.6" />
<line x1="213.17" y1="682.51" x2="217.92" y2="682.51" stroke="#000" stroke-width="0.6" />
<circle cx="212.64" cy="682.58" r="1.25" fill="#000"/>
<circle cx="215.55" cy="683.16" r="1.25" fill="#000"/>
<circle cx="218.46" cy="682.75" r="1.25" fill="#000"/>
<line x1="226.15" y1="669.87" x2="226.15" y2="660.75" stroke="#000" stroke-width="0.6" />
<line x1="223.77" y1="669.87" x2="228.52" y2="669.87" stroke="#000" stroke-width="0.6" />
<line x1="223.77" y1="660.75" x2="228.52" y2="660.75" stroke="#000" stroke-width="0.6" />
<circle cx="225.28" cy="661.66" r="1.25" fill="#000"/>
<circle cx="226.15" cy="669.41" r="1.25" fill="#000"/>
<circle cx="227.02" cy="663.94" r="1.25" fill="#000"/>
<line x1="153.5" y1="570.65" x2="153.5" y2="685.25" stroke="#000" stroke-width="0.7" />
<line x1="153.5" y1="684.9" x2="236.1" y2="684.9" stroke="#000" stroke-width="0.7" />
<line x1="149.1" y1="684.9" x2="153.5" y2="684.9" stroke="#000" stroke-width="0.7" />
<text x="148" y="687.65" font-size="8.0" text-anchor="end" fill="#1a1a1a" >0</text>
<line x1="149.1" y1="662.12" x2="153.5" y2="662.12" stroke="#000" stroke-width="0.7" />
<text x="148" y="664.87" font-size="8.0" text-anchor="end" fill="#1a1a1a" >10</text>
<line x1="149.1" y1="639.34" x2="153.5" y2="639.34" stroke="#000" stroke-width="0.7" />
<text x="148" y="642.09" font-size="8.0" text-anchor="end" fill="#1a1a1a" >20</text>
<line x1="149.1" y1="616.56" x2="153.5" y2="616.56" stroke="#000" stroke-width="0.7" />
<text x="148" y="619.31" font-size="8.0" text-anchor="end" fill="#1a1a1a" >30</text>
<line x1="149.1" y1="593.78" x2="153.5" y2="593.78" stroke="#000" stroke-width="0.7" />
<text x="148" y="596.53" font-size="8.0" text-anchor="end" fill="#1a1a1a" >40</text>
<line x1="149.1" y1="571" x2="153.5" y2="571" stroke="#000" stroke-width="0.7" />
<text x="148" y="573.75" font-size="8.0" text-anchor="end" fill="#1a1a1a" >50</text>
<line x1="173.75" y1="684.9" x2="173.75" y2="689.3" stroke="#000" stroke-width="0.7" />
<text transform="translate(176.65,695.8) rotate(-45)" font-size="8.0" text-anchor="end" fill="#1a1a1a">pegRNA</text>
<line x1="215.55" y1="684.9" x2="215.55" y2="689.3" stroke="#000" stroke-width="0.7" />
<text transform="translate(218.45,695.8) rotate(-45)" font-size="8.0" text-anchor="end" fill="#1a1a1a">rSp-pegRNA</text>
<rect x="270.5" y="637.97" width="9.5" height="16.86" fill="#fff"/>
<path d="M270.5,639.9L272.25,637.97M270.5,642.6L274.71,637.97M270.5,645.3L277.16,637.97M270.5,648L279.62,637.97M270.5,650.7L280,640.25M270.5,653.4L280,642.95M271.65,654.83L280,645.65M274.11,654.83L280,648.35M276.56,654.83L280,651.05M279.02,654.83L280,653.75" stroke="#9abbe7" stroke-width="0.95" fill="none"/>
<rect x="270.5" y="637.97" width="9.5" height="16.86" fill="none" stroke="#444" stroke-width="0.5"/>
<rect x="270.5" y="654.83" width="9.5" height="30.07" fill="#6a9bd2" stroke="#111" stroke-width="0.55"/>
<rect x="281.1" y="661.66" width="9.5" height="23.24" fill="#f26b55" stroke="#111" stroke-width="0.55"/>
<rect x="291.7" y="671.92" width="9.5" height="12.98" fill="#d5d5d5" stroke="#111" stroke-width="0.65"/>
<line x1="275.25" y1="640.71" x2="275.25" y2="635.24" stroke="#000" stroke-width="0.6" />
<line x1="272.88" y1="640.71" x2="277.62" y2="640.71" stroke="#000" stroke-width="0.6" />
<line x1="272.88" y1="635.24" x2="277.62" y2="635.24" stroke="#000" stroke-width="0.6" />
<circle cx="273.65" cy="635.79" r="1.25" fill="#000"/>
<circle cx="275.25" cy="640.43" r="1.25" fill="#000"/>
<circle cx="276.85" cy="637.15" r="1.25" fill="#000"/>
<line x1="275.25" y1="657.34" x2="275.25" y2="652.32" stroke="#000" stroke-width="0.6" />
<line x1="272.88" y1="657.34" x2="277.62" y2="657.34" stroke="#000" stroke-width="0.6" />
<line x1="272.88" y1="652.32" x2="277.62" y2="652.32" stroke="#000" stroke-width="0.6" />
<circle cx="273.65" cy="652.83" r="1.25" fill="#000"/>
<circle cx="275.25" cy="657.09" r="1.25" fill="#000"/>
<circle cx="276.85" cy="654.08" r="1.25" fill="#000"/>
<line x1="285.85" y1="662.58" x2="285.85" y2="660.75" stroke="#000" stroke-width="0.6" />
<line x1="283.48" y1="662.58" x2="288.23" y2="662.58" stroke="#000" stroke-width="0.6" />
<line x1="283.48" y1="660.75" x2="288.23" y2="660.75" stroke="#000" stroke-width="0.6" />
<circle cx="282.94" cy="660.94" r="1.25" fill="#000"/>
<circle cx="285.85" cy="662.48" r="1.25" fill="#000"/>
<circle cx="288.76" cy="661.39" r="1.25" fill="#000"/>
<line x1="296.45" y1="672.48" x2="296.45" y2="671.35" stroke="#000" stroke-width="0.6" />
<line x1="294.08" y1="672.48" x2="298.83" y2="672.48" stroke="#000" stroke-width="0.6" />
<line x1="294.08" y1="671.35" x2="298.83" y2="671.35" stroke="#000" stroke-width="0.6" />
<circle cx="293.54" cy="671.46" r="1.25" fill="#000"/>
<circle cx="296.45" cy="672.43" r="1.25" fill="#000"/>
<circle cx="299.36" cy="671.74" r="1.25" fill="#000"/>
<rect x="312.3" y="596.29" width="9.5" height="24.83" fill="#fff"/>
<path d="M312.3,596.7L312.68,596.29M312.3,599.4L315.13,596.29M312.3,602.1L317.59,596.29M312.3,604.8L320.04,596.29M312.3,607.5L321.8,597.05M312.3,610.2L321.8,599.75M312.3,612.9L321.8,602.45M312.3,615.6L321.8,605.15M312.3,618.3L321.8,607.85M312.3,621L321.8,610.55M314.65,621.12L321.8,613.25M317.1,621.12L321.8,615.95M319.56,621.12L321.8,618.65" stroke="#9abbe7" stroke-width="0.95" fill="none"/>
<rect x="312.3" y="596.29" width="9.5" height="24.83" fill="none" stroke="#444" stroke-width="0.5"/>
<rect x="312.3" y="621.12" width="9.5" height="63.78" fill="#6a9bd2" stroke="#111" stroke-width="0.55"/>
<rect x="322.9" y="682.17" width="9.5" height="2.73" fill="#f26b55" stroke="#111" stroke-width="0.55"/>
<rect x="333.5" y="654.37" width="9.5" height="30.53" fill="#d5d5d5" stroke="#111" stroke-width="0.65"/>
<line x1="317.05" y1="607.68" x2="317.05" y2="584.9" stroke="#000" stroke-width="0.6" />
<line x1="314.68" y1="607.68" x2="319.43" y2="607.68" stroke="#000" stroke-width="0.6" />
<line x1="314.68" y1="584.9" x2="319.43" y2="584.9" stroke="#000" stroke-width="0.6" />
<circle cx="316.18" cy="587.17" r="1.25" fill="#000"/>
<circle cx="317.05" cy="606.54" r="1.25" fill="#000"/>
<circle cx="317.92" cy="592.87" r="1.25" fill="#000"/>
<line x1="317.05" y1="631.37" x2="317.05" y2="610.87" stroke="#000" stroke-width="0.6" />
<line x1="314.68" y1="631.37" x2="319.43" y2="631.37" stroke="#000" stroke-width="0.6" />
<line x1="314.68" y1="610.87" x2="319.43" y2="610.87" stroke="#000" stroke-width="0.6" />
<circle cx="316.18" cy="612.92" r="1.25" fill="#000"/>
<circle cx="317.05" cy="630.34" r="1.25" fill="#000"/>
<circle cx="317.92" cy="618.04" r="1.25" fill="#000"/>
<line x1="327.65" y1="682.85" x2="327.65" y2="681.48" stroke="#000" stroke-width="0.6" />
<line x1="325.28" y1="682.85" x2="330.03" y2="682.85" stroke="#000" stroke-width="0.6" />
<line x1="325.28" y1="681.48" x2="330.03" y2="681.48" stroke="#000" stroke-width="0.6" />
<circle cx="324.74" cy="681.62" r="1.25" fill="#000"/>
<circle cx="327.65" cy="682.78" r="1.25" fill="#000"/>
<circle cx="330.56" cy="681.96" r="1.25" fill="#000"/>
<line x1="338.25" y1="654.94" x2="338.25" y2="653.81" stroke="#000" stroke-width="0.6" />
<line x1="335.88" y1="654.94" x2="340.63" y2="654.94" stroke="#000" stroke-width="0.6" />
<line x1="335.88" y1="653.81" x2="340.63" y2="653.81" stroke="#000" stroke-width="0.6" />
<circle cx="335.34" cy="653.92" r="1.25" fill="#000"/>
<circle cx="338.25" cy="654.89" r="1.25" fill="#000"/>
<circle cx="341.16" cy="654.2" r="1.25" fill="#000"/>
<line x1="265.6" y1="570.65" x2="265.6" y2="685.25" stroke="#000" stroke-width="0.7" />
<line x1="265.6" y1="684.9" x2="348.2" y2="684.9" stroke="#000" stroke-width="0.7" />
<line x1="261.2" y1="684.9" x2="265.6" y2="684.9" stroke="#000" stroke-width="0.7" />
<text x="260.1" y="687.65" font-size="8.0" text-anchor="end" fill="#1a1a1a" >0</text>
<line x1="261.2" y1="662.12" x2="265.6" y2="662.12" stroke="#000" stroke-width="0.7" />
<text x="260.1" y="664.87" font-size="8.0" text-anchor="end" fill="#1a1a1a" >10</text>
<line x1="261.2" y1="639.34" x2="265.6" y2="639.34" stroke="#000" stroke-width="0.7" />
<text x="260.1" y="642.09" font-size="8.0" text-anchor="end" fill="#1a1a1a" >20</text>
<line x1="261.2" y1="616.56" x2="265.6" y2="616.56" stroke="#000" stroke-width="0.7" />
<text x="260.1" y="619.31" font-size="8.0" text-anchor="end" fill="#1a1a1a" >30</text>
<line x1="261.2" y1="593.78" x2="265.6" y2="593.78" stroke="#000" stroke-width="0.7" />
<text x="260.1" y="596.53" font-size="8.0" text-anchor="end" fill="#1a1a1a" >40</text>
<line x1="261.2" y1="571" x2="265.6" y2="571" stroke="#000" stroke-width="0.7" />
<text x="260.1" y="573.75" font-size="8.0" text-anchor="end" fill="#1a1a1a" >50</text>
<line x1="285.85" y1="684.9" x2="285.85" y2="689.3" stroke="#000" stroke-width="0.7" />
<text transform="translate(288.75,695.8) rotate(-45)" font-size="8.0" text-anchor="end" fill="#1a1a1a">pegRNA</text>
<line x1="327.65" y1="684.9" x2="327.65" y2="689.3" stroke="#000" stroke-width="0.7" />
<text transform="translate(330.55,695.8) rotate(-45)" font-size="8.0" text-anchor="end" fill="#1a1a1a">rSp-pegRNA</text>
<rect x="382.6" y="621.88" width="9.5" height="14.81" fill="#fff"/>
<path d="M382.6,623.7L384.26,621.88M382.6,626.4L386.71,621.88M382.6,629.1L389.17,621.88M382.6,631.8L391.62,621.88M382.6,634.5L392.1,624.05M383.07,636.68L392.1,626.75M385.53,636.68L392.1,629.45M387.98,636.68L392.1,632.15M390.43,636.68L392.1,634.85" stroke="#9abbe7" stroke-width="0.95" fill="none"/>
<rect x="382.6" y="621.88" width="9.5" height="14.81" fill="none" stroke="#444" stroke-width="0.5"/>
<rect x="382.6" y="636.68" width="9.5" height="48.22" fill="#6a9bd2" stroke="#111" stroke-width="0.55"/>
<rect x="393.2" y="677.31" width="9.5" height="7.59" fill="#f26b55" stroke="#111" stroke-width="0.55"/>
<rect x="403.8" y="666.87" width="9.5" height="18.03" fill="#d5d5d5" stroke="#111" stroke-width="0.65"/>
<line x1="387.35" y1="623.77" x2="387.35" y2="619.98" stroke="#000" stroke-width="0.6" />
<line x1="384.97" y1="623.77" x2="389.72" y2="623.77" stroke="#000" stroke-width="0.6" />
<line x1="384.97" y1="619.98" x2="389.72" y2="619.98" stroke="#000" stroke-width="0.6" />
<circle cx="385.75" cy="620.36" r="1.25" fill="#000"/>
<circle cx="387.35" cy="623.58" r="1.25" fill="#000"/>
<circle cx="388.95" cy="621.31" r="1.25" fill="#000"/>
<line x1="387.35" y1="637.82" x2="387.35" y2="635.54" stroke="#000" stroke-width="0.6" />
<line x1="384.97" y1="637.82" x2="389.72" y2="637.82" stroke="#000" stroke-width="0.6" />
<line x1="384.97" y1="635.54" x2="389.72" y2="635.54" stroke="#000" stroke-width="0.6" />
<circle cx="384.44" cy="635.77" r="1.25" fill="#000"/>
<circle cx="387.35" cy="637.71" r="1.25" fill="#000"/>
<circle cx="390.26" cy="636.34" r="1.25" fill="#000"/>
<line x1="397.95" y1="678.07" x2="397.95" y2="676.55" stroke="#000" stroke-width="0.6" />
<line x1="395.57" y1="678.07" x2="400.32" y2="678.07" stroke="#000" stroke-width="0.6" />
<line x1="395.57" y1="676.55" x2="400.32" y2="676.55" stroke="#000" stroke-width="0.6" />
<circle cx="395.04" cy="676.7" r="1.25" fill="#000"/>
<circle cx="397.95" cy="677.99" r="1.25" fill="#000"/>
<circle cx="400.86" cy="677.08" r="1.25" fill="#000"/>
<line x1="408.55" y1="670.28" x2="408.55" y2="663.45" stroke="#000" stroke-width="0.6" />
<line x1="406.18" y1="670.28" x2="410.93" y2="670.28" stroke="#000" stroke-width="0.6" />
<line x1="406.18" y1="663.45" x2="410.93" y2="663.45" stroke="#000" stroke-width="0.6" />
<circle cx="407.68" cy="664.13" r="1.25" fill="#000"/>
<circle cx="408.55" cy="669.94" r="1.25" fill="#000"/>
<circle cx="409.42" cy="665.84" r="1.25" fill="#000"/>
<rect x="424.4" y="592.07" width="9.5" height="20.31" fill="#fff"/>
<path d="M424.4,594L426.15,592.07M424.4,596.7L428.61,592.07M424.4,599.4L431.06,592.07M424.4,602.1L433.52,592.07M424.4,604.8L433.9,594.35M424.4,607.5L433.9,597.05M424.4,610.2L433.9,599.75M424.87,612.38L433.9,602.45M427.32,612.38L433.9,605.15M429.78,612.38L433.9,607.85M432.23,612.38L433.9,610.55" stroke="#9abbe7" stroke-width="0.95" fill="none"/>
<rect x="424.4" y="592.07" width="9.5" height="20.31" fill="none" stroke="#444" stroke-width="0.5"/>
<rect x="424.4" y="612.38" width="9.5" height="72.52" fill="#6a9bd2" stroke="#111" stroke-width="0.55"/>
<rect x="435" y="683.19" width="9.5" height="1.71" fill="#f26b55" stroke="#111" stroke-width="0.55"/>
<rect x="445.6" y="664.02" width="9.5" height="20.88" fill="#d5d5d5" stroke="#111" stroke-width="0.65"/>
<line x1="429.15" y1="605.74" x2="429.15" y2="578.4" stroke="#000" stroke-width="0.6" />
<line x1="426.77" y1="605.74" x2="431.52" y2="605.74" stroke="#000" stroke-width="0.6" />
<line x1="426.77" y1="578.4" x2="431.52" y2="578.4" stroke="#000" stroke-width="0.6" />
<circle cx="428.28" cy="581.14" r="1.25" fill="#000"/>
<circle cx="429.15" cy="604.37" r="1.25" fill="#000"/>
<circle cx="430.02" cy="587.97" r="1.25" fill="#000"/>
<line x1="429.15" y1="619.03" x2="429.15" y2="605.74" stroke="#000" stroke-width="0.6" />
<line x1="426.77" y1="619.03" x2="431.52" y2="619.03" stroke="#000" stroke-width="0.6" />
<line x1="426.77" y1="605.74" x2="431.52" y2="605.74" stroke="#000" stroke-width="0.6" />
<circle cx="428.28" cy="607.07" r="1.25" fill="#000"/>
<circle cx="429.15" cy="618.36" r="1.25" fill="#000"/>
<circle cx="430.02" cy="610.39" r="1.25" fill="#000"/>
<line x1="439.75" y1="683.42" x2="439.75" y2="682.96" stroke="#000" stroke-width="0.6" />
<line x1="437.38" y1="683.42" x2="442.12" y2="683.42" stroke="#000" stroke-width="0.6" />
<line x1="437.38" y1="682.96" x2="442.12" y2="682.96" stroke="#000" stroke-width="0.6" />
<circle cx="436.84" cy="682.92" r="1.25" fill="#000"/>
<circle cx="439.75" cy="683.5" r="1.25" fill="#000"/>
<circle cx="442.66" cy="683.09" r="1.25" fill="#000"/>
<line x1="450.35" y1="669.33" x2="450.35" y2="658.7" stroke="#000" stroke-width="0.6" />
<line x1="447.98" y1="669.33" x2="452.73" y2="669.33" stroke="#000" stroke-width="0.6" />
<line x1="447.98" y1="658.7" x2="452.73" y2="658.7" stroke="#000" stroke-width="0.6" />
<circle cx="449.48" cy="659.77" r="1.25" fill="#000"/>
<circle cx="450.35" cy="668.8" r="1.25" fill="#000"/>
<circle cx="451.22" cy="662.42" r="1.25" fill="#000"/>
<line x1="377.7" y1="570.65" x2="377.7" y2="685.25" stroke="#000" stroke-width="0.7" />
<line x1="377.7" y1="684.9" x2="460.3" y2="684.9" stroke="#000" stroke-width="0.7" />
<line x1="373.3" y1="684.9" x2="377.7" y2="684.9" stroke="#000" stroke-width="0.7" />
<text x="372.2" y="687.65" font-size="8.0" text-anchor="end" fill="#1a1a1a" >0</text>
<line x1="373.3" y1="646.93" x2="377.7" y2="646.93" stroke="#000" stroke-width="0.7" />
<text x="372.2" y="649.68" font-size="8.0" text-anchor="end" fill="#1a1a1a" >2</text>
<line x1="373.3" y1="608.97" x2="377.7" y2="608.97" stroke="#000" stroke-width="0.7" />
<text x="372.2" y="611.72" font-size="8.0" text-anchor="end" fill="#1a1a1a" >4</text>
<line x1="373.3" y1="571" x2="377.7" y2="571" stroke="#000" stroke-width="0.7" />
<text x="372.2" y="573.75" font-size="8.0" text-anchor="end" fill="#1a1a1a" >6</text>
<line x1="397.95" y1="684.9" x2="397.95" y2="689.3" stroke="#000" stroke-width="0.7" />
<text transform="translate(400.85,695.8) rotate(-45)" font-size="8.0" text-anchor="end" fill="#1a1a1a">pegRNA</text>
<line x1="439.75" y1="684.9" x2="439.75" y2="689.3" stroke="#000" stroke-width="0.7" />
<text transform="translate(442.65,695.8) rotate(-45)" font-size="8.0" text-anchor="end" fill="#1a1a1a">rSp-pegRNA</text>
<text transform="translate(23.2,105.05) rotate(-90)" font-size="8.0" text-anchor="middle" fill="#1a1a1a" >Reads with indicated edit (%)</text>
<text transform="translate(7.1,144.8) rotate(-90)" font-size="9.1" text-anchor="start" fill="#1a1a1a"><tspan font-style="italic">PCSK9</tspan> 1 bp ins.</text>
<text transform="translate(23.2,279.65) rotate(-90)" font-size="8.0" text-anchor="middle" fill="#1a1a1a" >Reads with indicated edit (%)</text>
<text transform="translate(7.1,316.2) rotate(-90)" font-size="9.1" text-anchor="start" fill="#1a1a1a"><tspan font-style="italic">CTLA4</tspan> 8 bp ins.</text>
<text transform="translate(23.2,454.25) rotate(-90)" font-size="8.0" text-anchor="middle" fill="#1a1a1a" >Reads with indicated edit (%)</text>
<text transform="translate(7.1,494) rotate(-90)" font-size="9.1" text-anchor="start" fill="#1a1a1a"><tspan font-style="italic">HBEGF</tspan> 6 bp ins.</text>
<text transform="translate(23.2,628.85) rotate(-90)" font-size="8.0" text-anchor="middle" fill="#1a1a1a" >Reads with indicated edit (%)</text>
<text transform="translate(7.1,668.3) rotate(-90)" font-size="9.1" text-anchor="start" fill="#1a1a1a"><tspan font-style="italic">AAVS1</tspan> 6 bp ins.</text>
<line x1="533.7" y1="147.3" x2="533.7" y2="123.22" stroke="#111" stroke-width="0.9" />
<line x1="531.1" y1="147.3" x2="536.3" y2="147.3" stroke="#111" stroke-width="0.9" />
<line x1="531.1" y1="123.22" x2="536.3" y2="123.22" stroke="#111" stroke-width="0.9" />
<line x1="528.2" y1="135.54" x2="539.2" y2="135.54" stroke="#111" stroke-width="0.9" />
<circle cx="533.7" cy="118.74" r="1.75" fill="#000"/>
<circle cx="533.7" cy="134.98" r="1.75" fill="#000"/>
<circle cx="529.7" cy="145.62" r="1.75" fill="#000"/>
<circle cx="537.7" cy="142.82" r="1.75" fill="#000"/>
<line x1="550.6" y1="99.14" x2="550.6" y2="78.42" stroke="#111" stroke-width="0.9" />
<line x1="548" y1="99.14" x2="553.2" y2="99.14" stroke="#111" stroke-width="0.9" />
<line x1="548" y1="78.42" x2="553.2" y2="78.42" stroke="#111" stroke-width="0.9" />
<line x1="545.1" y1="88.5" x2="556.1" y2="88.5" stroke="#111" stroke-width="0.9" />
<circle cx="546.6" cy="82.9" r="1.75" fill="#ee1470"/>
<circle cx="554.6" cy="81.78" r="1.75" fill="#ee1470"/>
<circle cx="554.6" cy="86.26" r="1.75" fill="#ee1470"/>
<circle cx="550.6" cy="104.18" r="1.75" fill="#ee1470"/>
<line x1="567.5" y1="86.82" x2="567.5" y2="71.7" stroke="#111" stroke-width="0.9" />
<line x1="564.9" y1="86.82" x2="570.1" y2="86.82" stroke="#111" stroke-width="0.9" />
<line x1="564.9" y1="71.7" x2="570.1" y2="71.7" stroke="#111" stroke-width="0.9" />
<line x1="562" y1="79.32" x2="573" y2="79.32" stroke="#111" stroke-width="0.9" />
<circle cx="563.5" cy="75.06" r="1.75" fill="#0f8b8d"/>
<circle cx="571.5" cy="75.06" r="1.75" fill="#0f8b8d"/>
<circle cx="567.5" cy="77.08" r="1.75" fill="#0f8b8d"/>
<circle cx="567.5" cy="90.74" r="1.75" fill="#0f8b8d"/>
<line x1="522.4" y1="48.88" x2="522.4" y2="161.73" stroke="#000" stroke-width="0.85" />
<line x1="522.4" y1="161.3" x2="579.2" y2="161.3" stroke="#000" stroke-width="0.85" />
<line x1="518" y1="161.3" x2="522.4" y2="161.3" stroke="#000" stroke-width="0.85" />
<text x="516.1" y="164.05" font-size="8.0" text-anchor="end" fill="#1a1a1a" >0</text>
<line x1="518" y1="133.3" x2="522.4" y2="133.3" stroke="#000" stroke-width="0.85" />
<text x="516.1" y="136.05" font-size="8.0" text-anchor="end" fill="#1a1a1a" >25</text>
<line x1="518" y1="105.3" x2="522.4" y2="105.3" stroke="#000" stroke-width="0.85" />
<text x="516.1" y="108.05" font-size="8.0" text-anchor="end" fill="#1a1a1a" >50</text>
<line x1="518" y1="77.3" x2="522.4" y2="77.3" stroke="#000" stroke-width="0.85" />
<text x="516.1" y="80.05" font-size="8.0" text-anchor="end" fill="#1a1a1a" >75</text>
<line x1="518" y1="49.3" x2="522.4" y2="49.3" stroke="#000" stroke-width="0.85" />
<text x="516.1" y="52.05" font-size="8.0" text-anchor="end" fill="#1a1a1a" >100</text>
<line x1="533.7" y1="161.3" x2="533.7" y2="165.7" stroke="#000" stroke-width="0.85" />
<text transform="translate(537,171.7) rotate(-45)" font-size="8.0" text-anchor="end" fill="#1a1a1a">pegRNA</text>
<line x1="550.6" y1="161.3" x2="550.6" y2="165.7" stroke="#000" stroke-width="0.85" />
<text transform="translate(553.9,171.7) rotate(-45)" font-size="8.0" text-anchor="end" fill="#1a1a1a">rSp-pegRNA</text>
<line x1="567.5" y1="161.3" x2="567.5" y2="165.7" stroke="#000" stroke-width="0.85" />
<text transform="translate(570.8,171.7) rotate(-45)" font-size="8.0" text-anchor="end" fill="#1a1a1a">C3-pegRNA</text>
<line x1="533.7" y1="46.2" x2="567.7" y2="46.2" stroke="#333" stroke-width="0.8" />
<text x="550.6" y="48.5" font-size="11" text-anchor="middle" fill="#1a1a1a" >**</text>
<line x1="533.7" y1="60.8" x2="550.8" y2="60.8" stroke="#333" stroke-width="0.8" />
<text x="542.15" y="63.1" font-size="11" text-anchor="middle" fill="#1a1a1a" >**</text>
<line x1="639.6" y1="97.46" x2="639.6" y2="67.22" stroke="#111" stroke-width="0.9" />
<line x1="637" y1="97.46" x2="642.2" y2="97.46" stroke="#111" stroke-width="0.9" />
<line x1="637" y1="67.22" x2="642.2" y2="67.22" stroke="#111" stroke-width="0.9" />
<line x1="634.1" y1="82.34" x2="645.1" y2="82.34" stroke="#111" stroke-width="0.9" />
<circle cx="639.6" cy="69.46" r="1.75" fill="#000"/>
<circle cx="639.6" cy="73.6" r="1.75" fill="#000"/>
<circle cx="639.6" cy="83.35" r="1.75" fill="#000"/>
<circle cx="639.6" cy="103.06" r="1.75" fill="#000"/>
<line x1="651" y1="161.08" x2="662" y2="161.08" stroke="#111" stroke-width="0.9" />
<circle cx="652" cy="161.08" r="1.75" fill="#ee1470"/>
<circle cx="655" cy="160.96" r="1.75" fill="#ee1470"/>
<circle cx="658" cy="161.08" r="1.75" fill="#ee1470"/>
<circle cx="661" cy="161.08" r="1.75" fill="#ee1470"/>
<line x1="667.9" y1="160.96" x2="678.9" y2="160.96" stroke="#111" stroke-width="0.9" />
<circle cx="668.9" cy="161.08" r="1.75" fill="#0f8b8d"/>
<circle cx="671.9" cy="160.63" r="1.75" fill="#0f8b8d"/>
<circle cx="674.9" cy="160.96" r="1.75" fill="#0f8b8d"/>
<circle cx="677.9" cy="161.08" r="1.75" fill="#0f8b8d"/>
<line x1="628.9" y1="48.88" x2="628.9" y2="161.73" stroke="#000" stroke-width="0.85" />
<line x1="628.9" y1="161.3" x2="685" y2="161.3" stroke="#000" stroke-width="0.85" />
<line x1="624.5" y1="161.3" x2="628.9" y2="161.3" stroke="#000" stroke-width="0.85" />
<text x="622.6" y="164.05" font-size="8.0" text-anchor="end" fill="#1a1a1a" >0</text>
<line x1="624.5" y1="133.3" x2="628.9" y2="133.3" stroke="#000" stroke-width="0.85" />
<text x="622.6" y="136.05" font-size="8.0" text-anchor="end" fill="#1a1a1a" >25</text>
<line x1="624.5" y1="105.3" x2="628.9" y2="105.3" stroke="#000" stroke-width="0.85" />
<text x="622.6" y="108.05" font-size="8.0" text-anchor="end" fill="#1a1a1a" >50</text>
<line x1="624.5" y1="77.3" x2="628.9" y2="77.3" stroke="#000" stroke-width="0.85" />
<text x="622.6" y="80.05" font-size="8.0" text-anchor="end" fill="#1a1a1a" >75</text>
<line x1="624.5" y1="49.3" x2="628.9" y2="49.3" stroke="#000" stroke-width="0.85" />
<text x="622.6" y="52.05" font-size="8.0" text-anchor="end" fill="#1a1a1a" >100</text>
<line x1="639.6" y1="161.3" x2="639.6" y2="165.7" stroke="#000" stroke-width="0.85" />
<text transform="translate(642.9,171.7) rotate(-45)" font-size="8.0" text-anchor="end" fill="#1a1a1a">pegRNA</text>
<line x1="656.5" y1="161.3" x2="656.5" y2="165.7" stroke="#000" stroke-width="0.85" />
<text transform="translate(659.8,171.7) rotate(-45)" font-size="8.0" text-anchor="end" fill="#1a1a1a">rSp-pegRNA</text>
<line x1="673.4" y1="161.3" x2="673.4" y2="165.7" stroke="#000" stroke-width="0.85" />
<text transform="translate(676.7,171.7) rotate(-45)" font-size="8.0" text-anchor="end" fill="#1a1a1a">C3-pegRNA</text>
<line x1="533.7" y1="331.42" x2="533.7" y2="324.7" stroke="#111" stroke-width="0.9" />
<line x1="531.1" y1="331.42" x2="536.3" y2="331.42" stroke="#111" stroke-width="0.9" />
<line x1="531.1" y1="324.7" x2="536.3" y2="324.7" stroke="#111" stroke-width="0.9" />
<line x1="528.2" y1="328.06" x2="539.2" y2="328.06" stroke="#111" stroke-width="0.9" />
<circle cx="529.9" cy="325.37" r="1.75" fill="#000"/>
<circle cx="537.5" cy="324.81" r="1.75" fill="#000"/>
<circle cx="529.9" cy="331.31" r="1.75" fill="#000"/>
<circle cx="537.5" cy="331.31" r="1.75" fill="#000"/>
<line x1="550.6" y1="298.38" x2="550.6" y2="285.5" stroke="#111" stroke-width="0.9" />
<line x1="548" y1="298.38" x2="553.2" y2="298.38" stroke="#111" stroke-width="0.9" />
<line x1="548" y1="285.5" x2="553.2" y2="285.5" stroke="#111" stroke-width="0.9" />
<line x1="545.1" y1="291.88" x2="556.1" y2="291.88" stroke="#111" stroke-width="0.9" />
<circle cx="550.6" cy="282.7" r="1.75" fill="#ee1470"/>
<circle cx="547.2" cy="292.67" r="1.75" fill="#ee1470"/>
<circle cx="554.4" cy="292.67" r="1.75" fill="#ee1470"/>
<circle cx="550.6" cy="299.28" r="1.75" fill="#ee1470"/>
<line x1="567.5" y1="296.14" x2="567.5" y2="277.66" stroke="#111" stroke-width="0.9" />
<line x1="564.9" y1="296.14" x2="570.1" y2="296.14" stroke="#111" stroke-width="0.9" />
<line x1="564.9" y1="277.66" x2="570.1" y2="277.66" stroke="#111" stroke-width="0.9" />
<line x1="562" y1="286.62" x2="573" y2="286.62" stroke="#111" stroke-width="0.9" />
<circle cx="567.5" cy="272.84" r="1.75" fill="#0f8b8d"/>
<circle cx="563.9" cy="291.88" r="1.75" fill="#0f8b8d"/>
<circle cx="567.5" cy="291.1" r="1.75" fill="#0f8b8d"/>
<circle cx="571.1" cy="291.1" r="1.75" fill="#0f8b8d"/>
<line x1="522.4" y1="223.47" x2="522.4" y2="336.32" stroke="#000" stroke-width="0.85" />
<line x1="522.4" y1="335.9" x2="579.2" y2="335.9" stroke="#000" stroke-width="0.85" />
<line x1="518" y1="335.9" x2="522.4" y2="335.9" stroke="#000" stroke-width="0.85" />
<text x="516.1" y="338.65" font-size="8.0" text-anchor="end" fill="#1a1a1a" >0</text>
<line x1="518" y1="307.9" x2="522.4" y2="307.9" stroke="#000" stroke-width="0.85" />
<text x="516.1" y="310.65" font-size="8.0" text-anchor="end" fill="#1a1a1a" >25</text>
<line x1="518" y1="279.9" x2="522.4" y2="279.9" stroke="#000" stroke-width="0.85" />
<text x="516.1" y="282.65" font-size="8.0" text-anchor="end" fill="#1a1a1a" >50</text>
<line x1="518" y1="251.9" x2="522.4" y2="251.9" stroke="#000" stroke-width="0.85" />
<text x="516.1" y="254.65" font-size="8.0" text-anchor="end" fill="#1a1a1a" >75</text>
<line x1="518" y1="223.9" x2="522.4" y2="223.9" stroke="#000" stroke-width="0.85" />
<text x="516.1" y="226.65" font-size="8.0" text-anchor="end" fill="#1a1a1a" >100</text>
<line x1="533.7" y1="335.9" x2="533.7" y2="340.3" stroke="#000" stroke-width="0.85" />
<text transform="translate(537,346.3) rotate(-45)" font-size="8.0" text-anchor="end" fill="#1a1a1a">pegRNA</text>
<line x1="550.6" y1="335.9" x2="550.6" y2="340.3" stroke="#000" stroke-width="0.85" />
<text transform="translate(553.9,346.3) rotate(-45)" font-size="8.0" text-anchor="end" fill="#1a1a1a">rSp-pegRNA</text>
<line x1="567.5" y1="335.9" x2="567.5" y2="340.3" stroke="#000" stroke-width="0.85" />
<text transform="translate(570.8,346.3) rotate(-45)" font-size="8.0" text-anchor="end" fill="#1a1a1a">C3-pegRNA</text>
<line x1="533.7" y1="221.9" x2="567.7" y2="221.9" stroke="#333" stroke-width="0.8" />
<text x="550.6" y="224.2" font-size="11" text-anchor="middle" fill="#1a1a1a" >**</text>
<line x1="533.7" y1="237" x2="550.8" y2="237" stroke="#333" stroke-width="0.8" />
<text x="542.15" y="239.3" font-size="11" text-anchor="middle" fill="#1a1a1a" >**</text>
<line x1="639.6" y1="294.46" x2="639.6" y2="265.68" stroke="#111" stroke-width="0.9" />
<line x1="637" y1="294.46" x2="642.2" y2="294.46" stroke="#111" stroke-width="0.9" />
<line x1="637" y1="265.68" x2="642.2" y2="265.68" stroke="#111" stroke-width="0.9" />
<line x1="634.1" y1="279.9" x2="645.1" y2="279.9" stroke="#111" stroke-width="0.9" />
<circle cx="639.6" cy="259.18" r="1.75" fill="#000"/>
<circle cx="639.6" cy="282.7" r="1.75" fill="#000"/>
<circle cx="639.6" cy="286.96" r="1.75" fill="#000"/>
<circle cx="639.6" cy="291.88" r="1.75" fill="#000"/>
<line x1="651" y1="335" x2="662" y2="335" stroke="#111" stroke-width="0.9" />
<circle cx="652.3" cy="335" r="1.75" fill="#ee1470"/>
<circle cx="655.1" cy="335" r="1.75" fill="#ee1470"/>
<circle cx="657.9" cy="335" r="1.75" fill="#ee1470"/>
<circle cx="660.7" cy="335" r="1.75" fill="#ee1470"/>
<line x1="667.9" y1="335" x2="678.9" y2="335" stroke="#111" stroke-width="0.9" />
<circle cx="669.2" cy="335" r="1.75" fill="#0f8b8d"/>
<circle cx="672" cy="334.78" r="1.75" fill="#0f8b8d"/>
<circle cx="674.8" cy="334.78" r="1.75" fill="#0f8b8d"/>
<circle cx="677.6" cy="334.78" r="1.75" fill="#0f8b8d"/>
<line x1="628.9" y1="223.47" x2="628.9" y2="336.32" stroke="#000" stroke-width="0.85" />
<line x1="628.9" y1="335.9" x2="685" y2="335.9" stroke="#000" stroke-width="0.85" />
<line x1="624.5" y1="335.9" x2="628.9" y2="335.9" stroke="#000" stroke-width="0.85" />
<text x="622.6" y="338.65" font-size="8.0" text-anchor="end" fill="#1a1a1a" >0</text>
<line x1="624.5" y1="307.9" x2="628.9" y2="307.9" stroke="#000" stroke-width="0.85" />
<text x="622.6" y="310.65" font-size="8.0" text-anchor="end" fill="#1a1a1a" >25</text>
<line x1="624.5" y1="279.9" x2="628.9" y2="279.9" stroke="#000" stroke-width="0.85" />
<text x="622.6" y="282.65" font-size="8.0" text-anchor="end" fill="#1a1a1a" >50</text>
<line x1="624.5" y1="251.9" x2="628.9" y2="251.9" stroke="#000" stroke-width="0.85" />
<text x="622.6" y="254.65" font-size="8.0" text-anchor="end" fill="#1a1a1a" >75</text>
<line x1="624.5" y1="223.9" x2="628.9" y2="223.9" stroke="#000" stroke-width="0.85" />
<text x="622.6" y="226.65" font-size="8.0" text-anchor="end" fill="#1a1a1a" >100</text>
<line x1="639.6" y1="335.9" x2="639.6" y2="340.3" stroke="#000" stroke-width="0.85" />
<text transform="translate(642.9,346.3) rotate(-45)" font-size="8.0" text-anchor="end" fill="#1a1a1a">pegRNA</text>
<line x1="656.5" y1="335.9" x2="656.5" y2="340.3" stroke="#000" stroke-width="0.85" />
<text transform="translate(659.8,346.3) rotate(-45)" font-size="8.0" text-anchor="end" fill="#1a1a1a">rSp-pegRNA</text>
<line x1="673.4" y1="335.9" x2="673.4" y2="340.3" stroke="#000" stroke-width="0.85" />
<text transform="translate(676.7,346.3) rotate(-45)" font-size="8.0" text-anchor="end" fill="#1a1a1a">C3-pegRNA</text>
<line x1="538.2" y1="504" x2="538.2" y2="483.51" stroke="#111" stroke-width="0.9" />
<line x1="534.05" y1="504" x2="542.35" y2="504" stroke="#111" stroke-width="0.9" />
<line x1="534.05" y1="483.51" x2="542.35" y2="483.51" stroke="#111" stroke-width="0.9" />
<line x1="530.3" y1="493.7" x2="546.1" y2="493.7" stroke="#111" stroke-width="0.9" />
<circle cx="538.2" cy="480.71" r="1.75" fill="#000"/>
<circle cx="538.2" cy="491.12" r="1.75" fill="#000"/>
<circle cx="534.8" cy="502.55" r="1.75" fill="#000"/>
<circle cx="541.6" cy="500.87" r="1.75" fill="#000"/>
<line x1="562.4" y1="458.76" x2="562.4" y2="452.48" stroke="#111" stroke-width="0.9" />
<line x1="558.25" y1="458.76" x2="566.55" y2="458.76" stroke="#111" stroke-width="0.9" />
<line x1="558.25" y1="452.48" x2="566.55" y2="452.48" stroke="#111" stroke-width="0.9" />
<line x1="554.5" y1="455.96" x2="570.3" y2="455.96" stroke="#111" stroke-width="0.9" />
<circle cx="556.4" cy="458.53" r="1.75" fill="#ee1470"/>
<circle cx="562.9" cy="456.52" r="1.75" fill="#ee1470"/>
<circle cx="568.9" cy="451.7" r="1.75" fill="#ee1470"/>
<circle cx="568.9" cy="457.3" r="1.75" fill="#ee1470"/>
<line x1="522.4" y1="398.07" x2="522.4" y2="510.93" stroke="#000" stroke-width="0.85" />
<line x1="522.4" y1="510.5" x2="579.2" y2="510.5" stroke="#000" stroke-width="0.85" />
<line x1="518" y1="510.5" x2="522.4" y2="510.5" stroke="#000" stroke-width="0.85" />
<text x="516.1" y="513.25" font-size="8.0" text-anchor="end" fill="#1a1a1a" >0</text>
<line x1="518" y1="482.5" x2="522.4" y2="482.5" stroke="#000" stroke-width="0.85" />
<text x="516.1" y="485.25" font-size="8.0" text-anchor="end" fill="#1a1a1a" >25</text>
<line x1="518" y1="454.5" x2="522.4" y2="454.5" stroke="#000" stroke-width="0.85" />
<text x="516.1" y="457.25" font-size="8.0" text-anchor="end" fill="#1a1a1a" >50</text>
<line x1="518" y1="426.5" x2="522.4" y2="426.5" stroke="#000" stroke-width="0.85" />
<text x="516.1" y="429.25" font-size="8.0" text-anchor="end" fill="#1a1a1a" >75</text>
<line x1="518" y1="398.5" x2="522.4" y2="398.5" stroke="#000" stroke-width="0.85" />
<text x="516.1" y="401.25" font-size="8.0" text-anchor="end" fill="#1a1a1a" >100</text>
<line x1="538.2" y1="510.5" x2="538.2" y2="514.9" stroke="#000" stroke-width="0.85" />
<text transform="translate(541.5,520.9) rotate(-45)" font-size="8.0" text-anchor="end" fill="#1a1a1a">pegRNA</text>
<line x1="562.4" y1="510.5" x2="562.4" y2="514.9" stroke="#000" stroke-width="0.85" />
<text transform="translate(565.7,520.9) rotate(-45)" font-size="8.0" text-anchor="end" fill="#1a1a1a">rSp-pegRNA</text>
<line x1="538.2" y1="398" x2="562.6" y2="398" stroke="#333" stroke-width="0.8" />
<text x="550.3" y="400.3" font-size="11" text-anchor="middle" fill="#1a1a1a" >**</text>
<line x1="644.1" y1="459.32" x2="644.1" y2="436.58" stroke="#111" stroke-width="0.9" />
<line x1="639.95" y1="459.32" x2="648.25" y2="459.32" stroke="#111" stroke-width="0.9" />
<line x1="639.95" y1="436.58" x2="648.25" y2="436.58" stroke="#111" stroke-width="0.9" />
<line x1="636.2" y1="447.78" x2="652" y2="447.78" stroke="#111" stroke-width="0.9" />
<circle cx="644.1" cy="434.56" r="1.75" fill="#000"/>
<circle cx="644.1" cy="444.31" r="1.75" fill="#000"/>
<circle cx="644.1" cy="451.7" r="1.75" fill="#000"/>
<circle cx="644.1" cy="461" r="1.75" fill="#000"/>
<line x1="660.4" y1="509.94" x2="676.2" y2="509.94" stroke="#111" stroke-width="0.9" />
<circle cx="662" cy="509.94" r="1.75" fill="#ee1470"/>
<circle cx="666.2" cy="509.94" r="1.75" fill="#ee1470"/>
<circle cx="670.4" cy="509.94" r="1.75" fill="#ee1470"/>
<circle cx="674.6" cy="509.94" r="1.75" fill="#ee1470"/>
<line x1="628.9" y1="398.07" x2="628.9" y2="510.93" stroke="#000" stroke-width="0.85" />
<line x1="628.9" y1="510.5" x2="685" y2="510.5" stroke="#000" stroke-width="0.85" />
<line x1="624.5" y1="510.5" x2="628.9" y2="510.5" stroke="#000" stroke-width="0.85" />
<text x="622.6" y="513.25" font-size="8.0" text-anchor="end" fill="#1a1a1a" >0</text>
<line x1="624.5" y1="482.5" x2="628.9" y2="482.5" stroke="#000" stroke-width="0.85" />
<text x="622.6" y="485.25" font-size="8.0" text-anchor="end" fill="#1a1a1a" >25</text>
<line x1="624.5" y1="454.5" x2="628.9" y2="454.5" stroke="#000" stroke-width="0.85" />
<text x="622.6" y="457.25" font-size="8.0" text-anchor="end" fill="#1a1a1a" >50</text>
<line x1="624.5" y1="426.5" x2="628.9" y2="426.5" stroke="#000" stroke-width="0.85" />
<text x="622.6" y="429.25" font-size="8.0" text-anchor="end" fill="#1a1a1a" >75</text>
<line x1="624.5" y1="398.5" x2="628.9" y2="398.5" stroke="#000" stroke-width="0.85" />
<text x="622.6" y="401.25" font-size="8.0" text-anchor="end" fill="#1a1a1a" >100</text>
<line x1="644.1" y1="510.5" x2="644.1" y2="514.9" stroke="#000" stroke-width="0.85" />
<text transform="translate(647.4,520.9) rotate(-45)" font-size="8.0" text-anchor="end" fill="#1a1a1a">pegRNA</text>
<line x1="668.3" y1="510.5" x2="668.3" y2="514.9" stroke="#000" stroke-width="0.85" />
<text transform="translate(671.6,520.9) rotate(-45)" font-size="8.0" text-anchor="end" fill="#1a1a1a">rSp-pegRNA</text>
<line x1="538.2" y1="650.38" x2="538.2" y2="628.54" stroke="#111" stroke-width="0.9" />
<line x1="534.05" y1="650.38" x2="542.35" y2="650.38" stroke="#111" stroke-width="0.9" />
<line x1="534.05" y1="628.54" x2="542.35" y2="628.54" stroke="#111" stroke-width="0.9" />
<line x1="530.3" y1="639.18" x2="546.1" y2="639.18" stroke="#111" stroke-width="0.9" />
<circle cx="538.2" cy="624.28" r="1.75" fill="#000"/>
<circle cx="538.2" cy="639.85" r="1.75" fill="#000"/>
<circle cx="538.2" cy="645" r="1.75" fill="#000"/>
<circle cx="538.2" cy="649.04" r="1.75" fill="#000"/>
<line x1="562.4" y1="625.74" x2="562.4" y2="616.33" stroke="#111" stroke-width="0.9" />
<line x1="558.25" y1="625.74" x2="566.55" y2="625.74" stroke="#111" stroke-width="0.9" />
<line x1="558.25" y1="616.33" x2="566.55" y2="616.33" stroke="#111" stroke-width="0.9" />
<line x1="554.5" y1="620.7" x2="570.3" y2="620.7" stroke="#111" stroke-width="0.9" />
<circle cx="562.4" cy="615.21" r="1.75" fill="#ee1470"/>
<circle cx="559" cy="620.59" r="1.75" fill="#ee1470"/>
<circle cx="565.8" cy="621.37" r="1.75" fill="#ee1470"/>
<circle cx="562.4" cy="626.52" r="1.75" fill="#ee1470"/>
<line x1="522.4" y1="572.68" x2="522.4" y2="685.52" stroke="#000" stroke-width="0.85" />
<line x1="522.4" y1="685.1" x2="579.2" y2="685.1" stroke="#000" stroke-width="0.85" />
<line x1="518" y1="685.1" x2="522.4" y2="685.1" stroke="#000" stroke-width="0.85" />
<text x="516.1" y="687.85" font-size="8.0" text-anchor="end" fill="#1a1a1a" >0</text>
<line x1="518" y1="657.1" x2="522.4" y2="657.1" stroke="#000" stroke-width="0.85" />
<text x="516.1" y="659.85" font-size="8.0" text-anchor="end" fill="#1a1a1a" >25</text>
<line x1="518" y1="629.1" x2="522.4" y2="629.1" stroke="#000" stroke-width="0.85" />
<text x="516.1" y="631.85" font-size="8.0" text-anchor="end" fill="#1a1a1a" >50</text>
<line x1="518" y1="601.1" x2="522.4" y2="601.1" stroke="#000" stroke-width="0.85" />
<text x="516.1" y="603.85" font-size="8.0" text-anchor="end" fill="#1a1a1a" >75</text>
<line x1="518" y1="573.1" x2="522.4" y2="573.1" stroke="#000" stroke-width="0.85" />
<text x="516.1" y="575.85" font-size="8.0" text-anchor="end" fill="#1a1a1a" >100</text>
<line x1="538.2" y1="685.1" x2="538.2" y2="689.5" stroke="#000" stroke-width="0.85" />
<text transform="translate(541.5,695.5) rotate(-45)" font-size="8.0" text-anchor="end" fill="#1a1a1a">pegRNA</text>
<line x1="562.4" y1="685.1" x2="562.4" y2="689.5" stroke="#000" stroke-width="0.85" />
<text transform="translate(565.7,695.5) rotate(-45)" font-size="8.0" text-anchor="end" fill="#1a1a1a">rSp-pegRNA</text>
<line x1="538.2" y1="571.1" x2="562.6" y2="571.1" stroke="#333" stroke-width="0.8" />
<text x="550.3" y="573.4" font-size="11" text-anchor="middle" fill="#1a1a1a" >*</text>
<line x1="644.1" y1="668.3" x2="644.1" y2="641.87" stroke="#111" stroke-width="0.9" />
<line x1="639.95" y1="668.3" x2="648.25" y2="668.3" stroke="#111" stroke-width="0.9" />
<line x1="639.95" y1="641.87" x2="648.25" y2="641.87" stroke="#111" stroke-width="0.9" />
<line x1="636.2" y1="654.86" x2="652" y2="654.86" stroke="#111" stroke-width="0.9" />
<circle cx="644.1" cy="642.76" r="1.75" fill="#000"/>
<circle cx="644.1" cy="647.92" r="1.75" fill="#000"/>
<circle cx="644.1" cy="657.77" r="1.75" fill="#000"/>
<circle cx="644.1" cy="672.89" r="1.75" fill="#000"/>
<line x1="660.4" y1="682.52" x2="676.2" y2="682.52" stroke="#111" stroke-width="0.9" />
<circle cx="662" cy="682.86" r="1.75" fill="#ee1470"/>
<circle cx="666.2" cy="681.96" r="1.75" fill="#ee1470"/>
<circle cx="670.4" cy="682.86" r="1.75" fill="#ee1470"/>
<circle cx="674.6" cy="682.3" r="1.75" fill="#ee1470"/>
<line x1="628.9" y1="572.68" x2="628.9" y2="685.52" stroke="#000" stroke-width="0.85" />
<line x1="628.9" y1="685.1" x2="685" y2="685.1" stroke="#000" stroke-width="0.85" />
<line x1="624.5" y1="685.1" x2="628.9" y2="685.1" stroke="#000" stroke-width="0.85" />
<text x="622.6" y="687.85" font-size="8.0" text-anchor="end" fill="#1a1a1a" >0</text>
<line x1="624.5" y1="657.1" x2="628.9" y2="657.1" stroke="#000" stroke-width="0.85" />
<text x="622.6" y="659.85" font-size="8.0" text-anchor="end" fill="#1a1a1a" >25</text>
<line x1="624.5" y1="629.1" x2="628.9" y2="629.1" stroke="#000" stroke-width="0.85" />
<text x="622.6" y="631.85" font-size="8.0" text-anchor="end" fill="#1a1a1a" >50</text>
<line x1="624.5" y1="601.1" x2="628.9" y2="601.1" stroke="#000" stroke-width="0.85" />
<text x="622.6" y="603.85" font-size="8.0" text-anchor="end" fill="#1a1a1a" >75</text>
<line x1="624.5" y1="573.1" x2="628.9" y2="573.1" stroke="#000" stroke-width="0.85" />
<text x="622.6" y="575.85" font-size="8.0" text-anchor="end" fill="#1a1a1a" >100</text>
<line x1="644.1" y1="685.1" x2="644.1" y2="689.5" stroke="#000" stroke-width="0.85" />
<text transform="translate(647.4,695.5) rotate(-45)" font-size="8.0" text-anchor="end" fill="#1a1a1a">pegRNA</text>
<line x1="668.3" y1="685.1" x2="668.3" y2="689.5" stroke="#000" stroke-width="0.85" />
<text transform="translate(671.6,695.5) rotate(-45)" font-size="8.0" text-anchor="end" fill="#1a1a1a">rSp-pegRNA</text>
<text transform="translate(497.4,105) rotate(-90)" font-size="8.2" text-anchor="middle" fill="#1a1a1a" >Precision score (%)</text>
<text transform="translate(603.2,104.9) rotate(-90)" font-size="8.0" text-anchor="middle" fill="#1a1a1a" >Prime edits containing scaffold (%)</text>
<text transform="translate(497.4,279.6) rotate(-90)" font-size="8.2" text-anchor="middle" fill="#1a1a1a" >Precision score (%)</text>
<text transform="translate(603.2,279.5) rotate(-90)" font-size="8.0" text-anchor="middle" fill="#1a1a1a" >Prime edits containing scaffold (%)</text>
<text transform="translate(497.4,454.2) rotate(-90)" font-size="8.2" text-anchor="middle" fill="#1a1a1a" >Precision score (%)</text>
<text transform="translate(603.2,454.1) rotate(-90)" font-size="8.0" text-anchor="middle" fill="#1a1a1a" >Prime edits containing scaffold (%)</text>
<text transform="translate(497.4,628.8) rotate(-90)" font-size="8.2" text-anchor="middle" fill="#1a1a1a" >Precision score (%)</text>
<text transform="translate(603.2,628.7) rotate(-90)" font-size="8.0" text-anchor="middle" fill="#1a1a1a" >Prime edits containing scaffold (%)</text>
<rect x="36.2" y="745.7" width="10.4" height="4.6" fill="#6a9bd2" stroke="#111" stroke-width="0.6"/>
<text x="50" y="750.2" font-size="7.45" text-anchor="start" fill="#1a1a1a" >Prime edits - precise</text>
<rect x="36.2" y="754.85" width="10.4" height="4.6" fill="url(#hatch)" stroke="#111" stroke-width="0.6"/>
<text x="50" y="759.35" font-size="7.45" text-anchor="start" fill="#1a1a1a" >Prime edits - all (no scaffold)</text>
<rect x="36.2" y="764" width="10.4" height="4.6" fill="#f26b55" stroke="#111" stroke-width="0.6"/>
<text x="50" y="768.5" font-size="7.45" text-anchor="start" fill="#1a1a1a" >Scaffold incorporated</text>
<rect x="36.2" y="773.15" width="10.4" height="4.6" fill="#d5d5d5" stroke="#111" stroke-width="0.6"/>
<text x="50" y="777.65" font-size="7.45" text-anchor="start" fill="#1a1a1a" >Indels</text>
</svg>
</body></html>
